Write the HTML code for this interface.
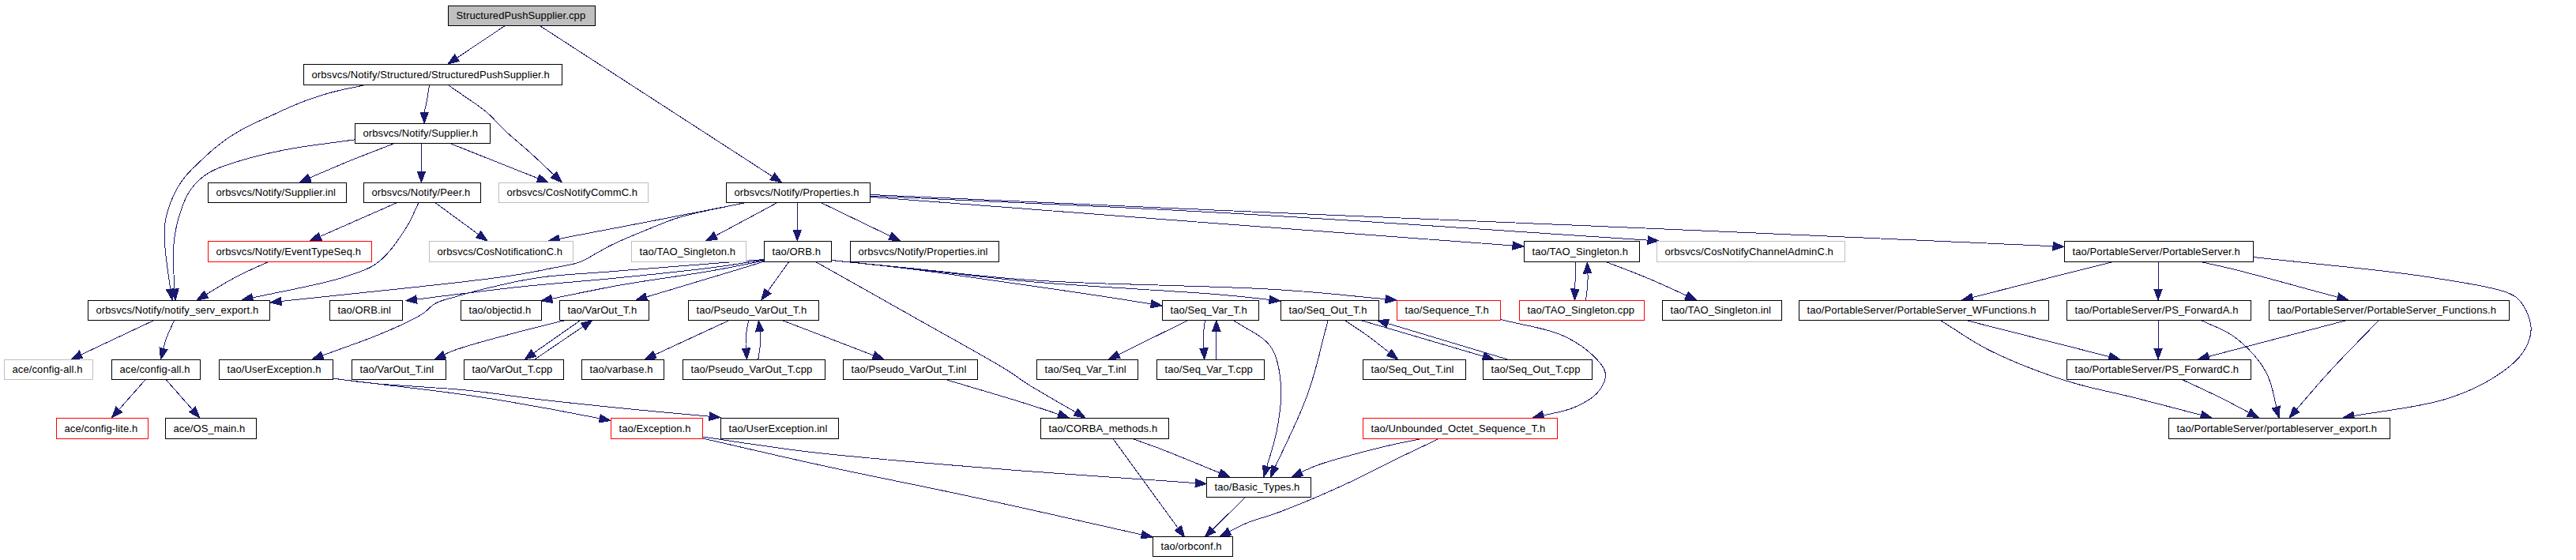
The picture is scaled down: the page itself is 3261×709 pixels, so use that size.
<!DOCTYPE html><html><head><meta charset="utf-8"><style>html,body{margin:0;padding:0;background:#fff;width:3261px;height:709px;overflow:hidden}svg{display:block}text{font-family:"Liberation Sans",sans-serif;font-size:13px;letter-spacing:0.1px;fill:#000}</style></head><body>
<svg width="3261" height="709" viewBox="0 0 3261 709">
<rect x="0" y="0" width="3261" height="709" fill="#fff"/>
<g fill="none" stroke="#191970" stroke-width="1" shape-rendering="crispEdges">
<path d="M639.4,32.5L567,81"/>
<path d="M683.2,32.5L989.5,231"/>
<path d="M543.5,107.5 543.2,109.6 542.9,111.6 542.6,113.7 542.2,115.8 541.9,117.9 541.6,119.9 541.3,122 541,124 540.6,126 540.2,128.1 539.8,130.2 539.3,132.3 538.8,134.5 538.3,136.6 537.9,138.7 537.5,140.9 537.3,143 537.1,145.1 537,147.3 537,149.5 537,151.7 537.1,153.8 537.1,156"/>
<path d="M566.6,107.2 568.3,108.3 569.9,109.5 571.6,110.6 573.2,111.7 574.8,112.9 576.5,114 578.1,115.1 579.8,116.3 581.5,117.4 583.2,118.6 584.8,119.8 586.5,121 588.2,122.2 589.9,123.3 591.6,124.5 593.4,125.7 595.1,126.8 596.8,128 598.6,129.2 600.3,130.4 602.1,131.6 603.9,132.8 605.6,134 607.4,135.3 609.1,136.6 610.8,137.9 612.5,139.2 614.1,140.5 615.7,141.8 617.3,143.2 618.8,144.6 620.3,146 621.8,147.4 623.3,148.9 624.7,150.3 626.1,151.8 627.5,153.3 628.9,154.8 630.4,156.3 631.8,157.8 633.2,159.3 634.7,160.9 636.2,162.4 637.7,163.8 639.2,165.3 640.7,166.7 642.2,168.1 643.7,169.4 645.2,170.7 646.7,172.1 648.3,173.4 649.8,174.7 651.4,176.1 652.9,177.4 654.5,178.8 656.1,180.1 657.7,181.5 659.3,182.9 660.9,184.3 662.6,185.7 664.2,187.1 665.8,188.5 667.5,189.9 669.1,191.4 670.6,192.8 672.2,194.2 673.7,195.5 675.1,196.9 676.6,198.2 678,199.6 679.5,200.9 681,202.3 682.5,203.7 684,205.1 685.5,206.5 687,207.9 688.5,209.4 690,210.8 691.5,212.3 693.1,213.7 694.6,215.1 696.1,216.6 697.6,218 699.2,219.5 700.7,220.9 702.2,222.4 703.7,223.8 705.3,225.3 706.8,226.7 708.3,228.2 709.8,229.6 711.3,231"/>
<path d="M462.5,107.5 460.4,107.9 458.4,108.4 456.3,108.8 454.3,109.3 452.2,109.7 450.1,110.1 448,110.5 446,111 443.9,111.4 441.8,111.8 439.7,112.3 437.7,112.7 435.6,113.2 433.6,113.6 431.6,114.1 429.5,114.5 427.5,115 425.5,115.5 423.5,116 421.5,116.5 419.5,117 417.5,117.6 415.5,118.2 413.5,118.7 411.5,119.3 409.5,119.9 407.6,120.5 405.6,121.1 403.7,121.7 401.7,122.3 399.8,123 397.8,123.6 395.9,124.3 393.9,124.9 392,125.6 390,126.4 388,127.1 386,127.8 384.1,128.6 382.2,129.3 380.3,130 378.4,130.8 376.5,131.6 374.7,132.3 372.8,133.1 370.8,134 368.9,134.8 367,135.6 365,136.5 363.1,137.4 361.2,138.2 359.2,139.1 357.3,140 355.4,140.8 353.5,141.7 351.6,142.6 349.8,143.4 348,144.2 346.2,145.1 344.4,145.9 342.6,146.7 340.9,147.5 339,148.3 337.1,149.2 335.1,150.1 333.1,151 331.2,151.8 329.2,152.7 327.3,153.6 325.4,154.4 323.6,155.3 321.7,156.1 319.9,157 318.1,157.9 316.2,158.8 314.4,159.8 312.5,160.7 310.7,161.7 308.9,162.7 307.1,163.6 305.3,164.6 303.5,165.7 301.7,166.7 299.9,167.7 298.1,168.8 296.3,169.9 294.5,171 292.7,172.1 291,173.2 289.2,174.4 287.5,175.6 285.8,176.8 284.1,178 282.5,179.2 280.9,180.4 279.3,181.6 277.7,182.8 276.1,184.1 274.6,185.3 273,186.6 271.4,187.9 269.9,189.3 268.3,190.6 266.7,192 265.2,193.4 263.6,194.8 262.1,196.2 260.5,197.6 259,199 257.5,200.4 256.1,201.7 254.7,203.1 253.2,204.4 251.8,205.8 250.3,207.2 248.8,208.6 247.4,210 245.9,211.4 244.4,212.9 243,214.3 241.5,215.8 240.1,217.3 238.7,218.8 237.3,220.3 236,221.9 234.7,223.4 233.4,225 232.1,226.6 230.9,228.2 229.8,229.8 228.6,231.5 227.5,233.2 226.5,234.9 225.4,236.6 224.4,238.4 223.4,240.2 222.4,242.1 221.5,243.9 220.5,245.8 219.7,247.7 218.8,249.6 218,251.5 217.2,253.4 216.4,255.3 215.6,257.1 214.9,259 214.3,260.9 213.6,262.8 213,264.6 212.5,266.4 211.9,268.3 211.4,270.2 210.9,272.2 210.4,274.2 210,276.2 209.6,278.2 209.3,280.2 209,282.1 208.8,284.1 208.6,286.1 208.5,288.2 208.4,290.2 208.3,292.4 208.3,294.6 208.2,296.7 208.2,298.8 208.3,300.8 208.3,302.7 208.4,304.6 208.5,306.5 208.6,308.5 208.7,310.5 208.9,312.6 209.1,314.7 209.3,316.9 209.5,319.1 209.8,321.3 210,323.5 210.3,325.8 210.5,328.1 210.8,330.4 211.1,332.7 211.4,335 211.7,337.3 212,339.5 212.3,341.8 212.6,344 212.9,346.1 213.2,348.2 213.5,350.3 213.8,352.3 214.1,354.2 214.3,356.1 214.6,357.9 214.8,359.6 215.1,361.3 215.3,362.9 215.5,364.6 215.8,366.4 216.1,368.3 216.4,370.4 216.7,372.4 217,374.3 217.4,376.2 217.7,378.1 218,380"/>
<path d="M499.1,181.6 497.2,182.4 495.2,183.1 493.3,183.9 491.3,184.6 489.4,185.4 487.4,186.1 485.5,186.9 483.5,187.6 481.6,188.4 479.6,189.1 477.7,189.9 475.8,190.7 473.8,191.4 471.9,192.2 470,192.9 468.1,193.6 466.2,194.4 464.3,195.1 462.4,195.8 460.6,196.6 458.7,197.3 456.8,198 454.9,198.8 453,199.5 451.1,200.3 449.1,201.1 447.1,201.9 445.1,202.7 443.1,203.5 441.2,204.2 439.4,205 437.6,205.7 435.8,206.5 433.9,207.3 432,208.1 430,208.9 428,209.8 425.9,210.6 423.9,211.5 421.8,212.4 419.7,213.3 417.6,214.2 415.6,215.1 413.5,215.9 411.5,216.8 409.5,217.7 407.5,218.5 405.6,219.3 403.7,220.1 401.9,220.9 400.1,221.7 398.5,222.4 396.9,223.1 395.3,223.8 393.7,224.5 391.9,225.3 390.1,226.1 388.2,226.9 386.4,227.8 384.5,228.6 382.7,229.4 381,230.2 379.2,231"/>
<path d="M533.4,181.6L533.4,231"/>
<path d="M569.8,181.6L694.1,231"/>
<path d="M449.3,176.8 447.3,177.1 445.3,177.4 443.3,177.7 441.2,177.9 439.2,178.2 437.2,178.5 435.2,178.8 433.1,179 431.1,179.3 429,179.6 427,179.9 424.9,180.1 422.9,180.4 420.8,180.7 418.8,180.9 416.7,181.2 414.7,181.5 412.6,181.7 410.6,182 408.5,182.3 406.5,182.5 404.5,182.8 402.4,183.1 400.4,183.4 398.4,183.6 396.3,183.9 394.3,184.2 392.3,184.5 390.3,184.8 388.3,185.1 386.3,185.4 384.3,185.7 382.4,186 380.4,186.3 378.5,186.6 376.5,186.9 374.6,187.2 372.7,187.5 370.8,187.9 368.9,188.2 367,188.6 365.1,188.9 363.2,189.3 361.2,189.6 359.2,190 357.2,190.5 355.1,190.9 353,191.3 350.9,191.8 348.8,192.2 346.7,192.7 344.6,193.1 342.5,193.6 340.5,194 338.4,194.5 336.4,195 334.3,195.5 332.3,196 330.3,196.4 328.3,196.9 326.3,197.4 324.3,197.9 322.4,198.4 320.4,198.9 318.5,199.4 316.6,199.9 314.7,200.5 312.9,201 311,201.5 309.2,202 307.4,202.5 305.6,203.1 303.9,203.6 302.1,204.1 300.4,204.7 298.6,205.2 296.7,205.8 294.8,206.5 292.7,207.1 290.6,207.8 288.6,208.5 286.5,209.2 284.5,209.9 282.5,210.6 280.6,211.3 278.6,212 276.8,212.7 274.9,213.5 273.1,214.3 271.3,215.1 269.6,215.9 267.9,216.8 266.2,217.7 264.5,218.7 262.8,219.8 261.1,220.9 259.3,222.1 257.6,223.4 255.9,224.7 254.3,226.1 252.7,227.5 251.1,229 249.6,230.4 248.1,232 246.7,233.5 245.3,235.1 244,236.7 242.7,238.3 241.5,240 240.4,241.7 239.3,243.3 238.2,245.1 237.3,246.8 236.3,248.6 235.4,250.3 234.6,252.2 233.8,254 233,255.9 232.2,257.8 231.4,259.8 230.7,261.8 230,263.7 229.3,265.7 228.7,267.7 228.1,269.6 227.5,271.4 226.9,273.3 226.3,275.2 225.8,277.1 225.3,279 224.8,280.9 224.3,282.9 223.8,284.9 223.4,286.9 222.9,288.9 222.5,290.9 222.1,293 221.8,295.1 221.4,297.2 221.1,299.3 220.8,301.4 220.5,303.5 220.3,305.7 220.1,307.7 219.9,309.8 219.7,311.8 219.6,313.9 219.5,316 219.5,318.1 219.4,320.3 219.4,322.5 219.4,324.8 219.4,327 219.4,329.3 219.5,331.6 219.5,333.9 219.6,336.2 219.7,338.5 219.8,340.8 219.8,343 219.9,345.2 220,347.4 220.2,349.5 220.3,351.6 220.4,353.6 220.5,355.6 220.6,357.5 220.7,359.3 220.8,361 220.9,362.7 220.9,364.5 221,366.3 221.2,368.3 221.3,370.3 221.4,372.3 221.6,374.3 221.7,376.2 221.9,378.1 222,380"/>
<path d="M503,256.4L392.5,305"/>
<path d="M550.6,256.4L617,305"/>
<path d="M530,256.4 529.1,258.3 528.2,260.2 527.4,262 526.5,263.9 525.7,265.8 524.8,267.6 524,269.5 523.1,271.4 522.3,273.3 521.4,275.1 520.5,277 519.5,278.9 518.5,280.8 517.5,282.7 516.4,284.6 515.3,286.5 514.2,288.3 513.1,290 512.1,291.7 511,293.3 509.9,295 508.8,296.6 507.7,298.3 506.5,300 505.3,301.8 504.1,303.5 502.9,305.2 501.6,307 500.3,308.7 499.1,310.4 497.7,312.2 496.4,313.9 495.1,315.5 493.7,317.2 492.3,318.8 490.9,320.4 489.5,322 488.1,323.5 486.6,325 485.2,326.4 483.7,327.8 482.2,329.1 480.7,330.3 479.2,331.6 477.6,332.8 476,333.9 474.4,335 472.8,336 471.2,337 469.6,337.9 467.9,338.8 466.3,339.6 464.6,340.4 462.9,341.2 461.2,341.9 459.4,342.6 457.6,343.3 455.7,344 453.8,344.7 451.8,345.4 449.8,346.1 447.7,346.8 445.6,347.5 443.5,348.2 441.4,348.9 439.4,349.6 437.7,350.2 436,350.7 434.5,351.2 433,351.6 431.5,352.1 429.9,352.5 428.3,353 426.7,353.4 425.1,353.9 423.4,354.4 421.8,354.8 420,355.3 418.3,355.7 416.5,356.2 414.7,356.6 412.9,357.1 411.1,357.5 409.3,357.9 407.4,358.4 405.5,358.8 403.6,359.3 401.6,359.7 399.7,360.2 397.7,360.6 395.7,361.1 393.7,361.5 391.7,361.9 389.7,362.4 387.7,362.8 385.6,363.3 383.6,363.7 381.5,364.2 379.4,364.6 377.3,365 375.2,365.5 373.1,365.9 371,366.4 368.9,366.8 366.7,367.2 364.6,367.7 362.5,368.1 360.3,368.5 358.2,369 356,369.4 353.9,369.9 351.8,370.3 349.6,370.7 347.5,371.2 345.3,371.6 343.2,372.1 341.1,372.5 338.9,372.9 336.8,373.4 334.7,373.8 332.6,374.3 330.5,374.7 328.4,375.1 326.3,375.6 324.2,376 322.1,376.5 320.1,376.9 318,377.3 316,377.8 314,378.2 312,378.7 310,379.1 308,379.6 306,380"/>
<path d="M340,331.4 338.2,332.2 336.4,333.1 334.6,333.9 332.8,334.7 331,335.5 329.2,336.3 327.4,337.1 325.6,337.9 323.8,338.7 322,339.5 320.2,340.3 318.4,341.1 316.6,341.9 314.8,342.8 313,343.6 311.2,344.5 309.3,345.3 307.5,346.2 305.6,347.1 303.8,348.1 301.9,349 300.1,350 298.4,350.9 296.6,351.8 294.9,352.8 293.2,353.7 291.5,354.7 289.8,355.6 288,356.6 286.3,357.6 284.5,358.7 282.8,359.7 281,360.7 279.2,361.8 277.5,362.8 275.7,363.9 273.9,365 272.1,366.1 270.4,367.1 268.6,368.2 266.8,369.3 265,370.4 263.2,371.5 261.4,372.6 259.6,373.6 257.9,374.7 256.1,375.8 254.3,376.8 252.5,377.9 250.8,379 249,380"/>
<path d="M944.7,256.5 942.7,256.9 940.8,257.3 938.8,257.7 936.8,258 934.8,258.4 932.9,258.8 930.9,259.2 929,259.6 927,260 925.1,260.3 923.1,260.7 921.2,261.1 919.2,261.5 917.3,261.9 915.4,262.2 913.4,262.6 911.5,263 909.5,263.4 907.6,263.8 905.7,264.1 903.7,264.5 901.8,264.9 899.8,265.3 897.9,265.7 896,266 894,266.4 892.1,266.8 890.1,267.2 888.2,267.6 886.2,268 884.2,268.3 882.3,268.7 880.3,269.1 878.4,269.5 876.4,269.9 874.4,270.3 872.4,270.7 870.4,271 868.4,271.4 866.4,271.8 864.4,272.2 862.4,272.6 860.4,273 858.4,273.4 856.4,273.8 854.3,274.2 852.3,274.6 850.3,275 848.2,275.4 846.1,275.8 844.1,276.2 842,276.6 839.9,277 837.9,277.4 835.9,277.8 833.9,278.1 832,278.5 830.2,278.9 828.3,279.2 826.4,279.6 824.5,280 822.7,280.3 820.8,280.7 818.9,281.1 817,281.4 815.1,281.8 813.2,282.2 811.2,282.5 809.3,282.9 807.4,283.3 805.5,283.6 803.5,284 801.6,284.4 799.7,284.8 797.7,285.1 795.8,285.5 793.8,285.9 791.8,286.3 789.9,286.6 787.9,287 785.9,287.4 784,287.8 782,288.2 780,288.5 778,288.9 776,289.3 774,289.7 772,290.1 770,290.4 768.1,290.8 766.1,291.2 764.1,291.6 762.1,292 760.1,292.4 758,292.7 756,293.1 754,293.5 752,293.9 750,294.3 748,294.7 746,295 744,295.4 742,295.8 740,296.2 738,296.6 736,297 734,297.4 731.9,297.7 729.9,298.1 727.9,298.5 725.9,298.9 723.9,299.3 721.9,299.7 719.9,300 717.9,300.4 715.9,300.8 713.9,301.2 711.9,301.6 709.9,302 707.9,302.3 706,302.7 704,303.1 702,303.5 700,303.9 698,304.2 696.1,304.6 694.1,305"/>
<path d="M941,257 939,257.4 937,257.9 935,258.3 933,258.7 931,259.2 928.9,259.6 926.9,260 924.8,260.5 922.7,260.9 920.7,261.3 918.6,261.8 916.5,262.2 914.4,262.6 912.3,263.1 910.2,263.5 908.1,263.9 906,264.4 904,264.8 901.9,265.2 899.8,265.7 897.8,266.1 895.7,266.5 893.7,267 891.7,267.4 889.7,267.8 887.7,268.3 885.7,268.7 883.7,269.1 881.8,269.6 879.9,270 878,270.5 876.2,270.9 874.3,271.4 872.5,271.8 870.7,272.3 869,272.7 867.3,273.2 865.6,273.6 863.9,274.1 862.1,274.6 860.3,275.1 858.4,275.7 856.4,276.4 854.3,277 852.4,277.7 850.4,278.4 848.5,279 846.7,279.7 844.9,280.4 843.1,281.1 841.3,281.8 839.6,282.5 837.8,283.2 836.1,283.9 834.3,284.6 832.5,285.3 830.7,286.1 828.8,286.8 827,287.6 825.1,288.3 823.3,289.1 821.4,289.8 819.6,290.6 817.7,291.3 815.9,292.1 813.9,292.9 812,293.7 810.1,294.4 808.1,295.3 806.1,296.1 804.2,296.9 802.2,297.7 800.2,298.5 798.2,299.4 796.3,300.2 794.4,301 792.5,301.8 790.6,302.7 788.7,303.5 786.9,304.3 785.1,305.1 783.4,305.9 781.6,306.6 780,307.4 778.2,308.2 776.5,309.1 774.6,310 772.7,310.9 770.8,311.9 769,312.9 767.1,313.9 765.4,314.8 763.6,315.8 761.9,316.8 760.2,317.7 758.6,318.6 756.9,319.6 755.2,320.5 753.5,321.5 751.8,322.5 750,323.5 748.3,324.5 746.6,325.6 744.9,326.6 743.2,327.6 741.4,328.5 739.6,329.4 737.8,330.3 735.9,331 734.1,331.7 732.3,332.3 730.6,332.9 728.8,333.4 727,333.9 725.1,334.3 723.2,334.8 721.2,335.2 719.2,335.6 717.2,336 715.1,336.4 713.1,336.8 710.9,337.2 708.8,337.6 706.6,338 704.5,338.4 702.4,338.8 700.3,339.2 698.4,339.6 696.6,340 694.9,340.3 693.1,340.7 691.4,341 689.7,341.4 688,341.7 686.3,342.1 684.6,342.4 682.8,342.7 681.1,343.1 679.3,343.4 677.5,343.8 675.7,344.1 673.8,344.5 671.9,344.8 670,345.2 668,345.5 666,345.9 663.9,346.2 661.8,346.6 659.6,347 657.4,347.3 655.1,347.7 652.8,348.1 650.3,348.4 647.9,348.8 645.4,349.2 643.1,349.5 641,349.9 639.1,350.1 637.6,350.3 636.2,350.5 634.9,350.7 633.5,350.9 632.2,351.1 630.8,351.3 629.4,351.5 628,351.7 626.6,351.8 625.2,352 623.7,352.2 622.2,352.4 620.7,352.6 619.2,352.8 617.7,353 616.2,353.2 614.6,353.4 613,353.6 611.4,353.8 609.8,354 608.2,354.2 606.5,354.4 604.9,354.6 603.2,354.8 601.5,355 599.8,355.2 598.1,355.4 596.3,355.6 594.6,355.8 592.8,356 591,356.2 589.2,356.5 587.4,356.7 585.6,356.9 583.8,357.1 581.9,357.3 580.1,357.5 578.2,357.7 576.3,357.9 574.4,358.2 572.5,358.4 570.6,358.6 568.7,358.8 566.7,359 564.8,359.2 562.8,359.5 560.8,359.7 558.8,359.9 556.8,360.1 554.8,360.4 552.8,360.6 550.8,360.8 548.7,361 546.7,361.2 544.6,361.5 542.6,361.7 540.5,361.9 538.4,362.1 536.3,362.4 534.2,362.6 532.1,362.8 530,363.1 527.9,363.3 525.7,363.5 523.6,363.7 521.5,364 519.3,364.2 517.2,364.4 515,364.7 512.8,364.9 510.7,365.1 508.5,365.4 506.3,365.6 504.1,365.8 501.9,366.1 499.7,366.3 497.5,366.5 495.3,366.7 493.1,367 490.9,367.2 488.6,367.5 486.4,367.7 484.2,367.9 482,368.2 479.7,368.4 477.5,368.6 475.2,368.9 473,369.1 470.8,369.3 468.5,369.6 466.3,369.8 464,370 461.8,370.3 459.5,370.5 457.3,370.7 455,371 452.8,371.2 450.5,371.4 448.3,371.7 446,371.9 443.7,372.2 441.5,372.4 439.2,372.6 437,372.9 434.7,373.1 432.5,373.3 430.2,373.6 428,373.8 425.8,374 423.5,374.3 421.3,374.5 419,374.7 416.8,375 414.6,375.2 412.3,375.4 410.1,375.7 407.9,375.9 405.7,376.1 403.5,376.4 401.3,376.6 399.1,376.8 396.9,377.1 394.7,377.3 392.5,377.5 390.3,377.8 388.1,378 385.9,378.2 383.8,378.5 381.6,378.7 379.5,378.9 377.3,379.2 375.2,379.4 373,379.6 370.9,379.8 368.8,380.1 366.7,380.3 364.6,380.5 362.5,380.8 360.4,381 358.3,381.2 356.3,381.4 354.2,381.7 352.1,381.9 350.1,382.1 348.1,382.3 346,382.6 344,382.8 342,383"/>
<path d="M984.2,256.5L893.7,305"/>
<path d="M1009.3,256.5L1009.3,305"/>
<path d="M1039.2,256.5L1139.5,305"/>
<path d="M1101.8,249.3 1103.8,249.5 1105.8,249.6 1107.8,249.8 1109.8,249.9 1111.8,250.1 1113.8,250.2 1115.8,250.4 1117.8,250.5 1119.8,250.7 1121.8,250.8 1123.9,251 1125.9,251.1 1127.9,251.3 1129.9,251.5 1131.9,251.6 1133.9,251.8 1135.9,251.9 1137.9,252.1 1139.9,252.2 1142,252.4 1144,252.5 1146,252.7 1148,252.8 1150,253 1152,253.1 1154,253.3 1156.1,253.5 1158.1,253.6 1160.1,253.8 1162.1,253.9 1164.1,254.1 1166.2,254.2 1168.2,254.4 1170.2,254.5 1172.2,254.7 1174.2,254.9 1176.3,255 1178.3,255.2 1180.3,255.3 1182.3,255.5 1184.4,255.6 1186.4,255.8 1188.4,255.9 1190.4,256.1 1192.4,256.2 1194.5,256.4 1196.5,256.6 1198.5,256.7 1200.5,256.9 1202.6,257 1204.6,257.2 1206.6,257.3 1208.6,257.5 1210.7,257.6 1212.7,257.8 1214.7,258 1216.8,258.1 1218.8,258.3 1220.8,258.4 1222.8,258.6 1224.9,258.7 1226.9,258.9 1228.9,259 1231,259.2 1233,259.4 1235,259.5 1237,259.7 1239.1,259.8 1241.1,260 1243.1,260.1 1245.2,260.3 1247.2,260.4 1249.2,260.6 1251.2,260.8 1253.3,260.9 1255.3,261.1 1257.3,261.2 1259.4,261.4 1261.4,261.5 1263.4,261.7 1265.4,261.9 1267.5,262 1269.5,262.2 1271.5,262.3 1273.6,262.5 1275.6,262.6 1277.6,262.8 1279.6,262.9 1281.7,263.1 1283.7,263.3 1285.7,263.4 1287.7,263.6 1289.8,263.7 1291.8,263.9 1293.8,264 1295.9,264.2 1297.9,264.3 1299.9,264.5 1301.9,264.7 1304,264.8 1306,265 1308,265.1 1310,265.3 1312.1,265.4 1314.1,265.6 1316.1,265.7 1318.1,265.9 1320.2,266.1 1322.2,266.2 1324.2,266.4 1326.2,266.5 1328.2,266.7 1330.3,266.8 1332.3,267 1334.3,267.1 1336.3,267.3 1338.3,267.4 1340.4,267.6 1342.4,267.8 1344.4,267.9 1346.4,268.1 1348.4,268.2 1350.5,268.4 1352.5,268.5 1354.5,268.7 1356.5,268.8 1358.5,269 1360.5,269.1 1362.6,269.3 1364.6,269.5 1366.6,269.6 1368.6,269.8 1370.6,269.9 1372.6,270.1 1374.6,270.2 1376.6,270.4 1378.6,270.5 1380.7,270.7 1382.7,270.8 1384.7,271 1386.7,271.2 1388.7,271.3 1390.7,271.5 1392.7,271.6 1394.7,271.8 1396.7,271.9 1398.7,272.1 1400.7,272.2 1402.7,272.4 1404.7,272.5 1406.7,272.7 1408.7,272.8 1410.7,273 1412.7,273.1 1414.7,273.3 1416.7,273.4 1418.7,273.6 1420.7,273.8 1422.7,273.9 1424.7,274.1 1426.7,274.2 1428.7,274.4 1430.7,274.5 1432.6,274.7 1434.6,274.8 1436.6,275 1438.6,275.1 1440.6,275.3 1442.6,275.4 1444.6,275.6 1446.5,275.7 1448.5,275.9 1450.5,276 1452.5,276.2 1454.5,276.3 1456.4,276.5 1458.4,276.6 1460.4,276.8 1462.4,276.9 1464.3,277.1 1466.3,277.2 1468.3,277.4 1470.3,277.5 1472.2,277.7 1474.2,277.8 1476.2,278 1478.1,278.1 1480.1,278.3 1482.1,278.4 1484,278.6 1486,278.7 1487.9,278.9 1489.9,279 1491.9,279.2 1493.8,279.3 1495.8,279.5 1497.7,279.6 1499.7,279.8 1501.6,279.9 1503.6,280.1 1505.5,280.2 1507.5,280.4 1509.4,280.5 1511.4,280.7 1513.3,280.8 1515.3,281 1517.2,281.1 1519.1,281.3 1521.1,281.4 1523,281.6 1525,281.7 1526.9,281.8 1528.8,282 1530.8,282.1 1532.7,282.3 1534.6,282.4 1536.5,282.6 1538.5,282.7 1540.4,282.9 1542.3,283 1544.2,283.2 1546.2,283.3 1548.1,283.5 1550.1,283.6 1552.1,283.8 1554.2,283.9 1556.2,284.1 1558.3,284.2 1560.4,284.4 1562.4,284.5 1564.5,284.7 1566.6,284.9 1568.6,285 1570.7,285.2 1572.8,285.3 1574.8,285.5 1576.9,285.6 1578.9,285.8 1581,285.9 1583,286.1 1585.1,286.3 1587.1,286.4 1589.2,286.6 1591.2,286.7 1593.3,286.9 1595.3,287 1597.4,287.2 1599.4,287.3 1601.4,287.5 1603.5,287.6 1605.5,287.8 1607.6,287.9 1609.6,288.1 1611.6,288.3 1613.6,288.4 1615.7,288.6 1617.7,288.7 1619.7,288.9 1621.8,289 1623.8,289.2 1625.8,289.3 1627.8,289.5 1629.9,289.6 1631.9,289.8 1633.9,289.9 1635.9,290.1 1637.9,290.2 1639.9,290.4 1642,290.5 1644,290.7 1646,290.8 1648,291 1650,291.1 1652,291.3 1654,291.4 1656,291.6 1658,291.7 1660,291.9 1662,292 1664,292.2 1666,292.3 1668,292.5 1670,292.6 1672,292.8 1674,292.9 1676,293.1 1678,293.2 1680,293.4 1682,293.5 1684,293.7 1686,293.8 1688,294 1690,294.1 1692,294.3 1694,294.4 1695.9,294.6 1697.9,294.7 1699.9,294.9 1701.9,295 1703.9,295.2 1705.9,295.3 1707.9,295.5 1709.8,295.6 1711.8,295.8 1713.8,295.9 1715.8,296.1 1717.8,296.2 1719.7,296.4 1721.7,296.5 1723.7,296.7 1725.7,296.8 1727.7,297 1729.6,297.1 1731.6,297.2 1733.6,297.4 1735.6,297.5 1737.5,297.7 1739.5,297.8 1741.5,298 1743.5,298.1 1745.4,298.3 1747.4,298.4 1749.4,298.6 1751.3,298.7 1753.3,298.9 1755.3,299 1757.3,299.2 1759.2,299.3 1761.2,299.5 1763.2,299.6 1765.1,299.8 1767.1,299.9 1769.1,300 1771,300.2 1773,300.3 1775,300.5 1777,300.6 1778.9,300.8 1780.9,300.9 1782.9,301.1 1784.8,301.2 1786.8,301.4 1788.8,301.5 1790.7,301.7 1792.7,301.8 1794.7,302 1796.6,302.1 1798.6,302.3 1800.6,302.4 1802.5,302.5 1804.5,302.7 1806.5,302.8 1808.4,303 1810.4,303.1 1812.4,303.3 1814.3,303.4 1816.3,303.6 1818.3,303.7 1820.2,303.9 1822.2,304 1824.2,304.2 1826.1,304.3 1828.1,304.5 1830.1,304.6 1832,304.8 1834,304.9 1836,305 1837.9,305.2 1839.9,305.3 1841.9,305.5 1843.9,305.6 1845.8,305.8 1847.8,305.9 1849.8,306.1 1851.7,306.2 1853.7,306.4 1855.7,306.5 1857.7,306.7 1859.6,306.8 1861.6,307 1863.6,307.1 1865.5,307.3 1867.5,307.4 1869.5,307.5 1871.5,307.7 1873.4,307.8 1875.4,308 1877.4,308.1 1879.4,308.3 1881.3,308.4 1883.3,308.6 1885.3,308.7 1887.3,308.9 1889.3,309 1891.2,309.2 1893.2,309.3 1895.2,309.5 1897.2,309.6 1899.2,309.8 1901.2,309.9 1903.1,310.1 1905.1,310.2 1907.1,310.4 1909.1,310.5 1911.1,310.7 1913.1,310.8 1915.1,311 1917,311.1 1919,311.3 1921,311.4 1923,311.6 1925,311.7 1927,311.9 1929,312"/>
<path d="M1101.8,248 1103.8,248.1 1105.8,248.2 1107.8,248.3 1109.8,248.4 1111.8,248.5 1113.8,248.6 1115.8,248.7 1117.8,248.8 1119.8,248.9 1121.8,249 1123.8,249 1125.7,249.1 1127.7,249.2 1129.7,249.3 1131.7,249.4 1133.7,249.5 1135.7,249.6 1137.7,249.7 1139.7,249.8 1141.7,249.9 1143.6,250 1145.6,250.1 1147.6,250.2 1149.6,250.3 1151.6,250.4 1153.6,250.4 1155.5,250.5 1157.5,250.6 1159.5,250.7 1161.5,250.8 1163.5,250.9 1165.4,251 1167.4,251.1 1169.4,251.2 1171.4,251.3 1173.3,251.4 1175.3,251.5 1177.3,251.5 1179.3,251.6 1181.2,251.7 1183.2,251.8 1185.2,251.9 1187.2,252 1189.1,252.1 1191.1,252.2 1193.1,252.3 1195,252.4 1197,252.5 1199,252.5 1201,252.6 1202.9,252.7 1204.9,252.8 1206.9,252.9 1208.8,253 1210.8,253.1 1212.8,253.2 1214.7,253.3 1216.7,253.3 1218.7,253.4 1220.7,253.5 1222.6,253.6 1224.6,253.7 1226.6,253.8 1228.5,253.9 1230.5,254 1232.5,254.1 1234.4,254.2 1236.4,254.2 1238.4,254.3 1240.3,254.4 1242.3,254.5 1244.3,254.6 1246.2,254.7 1248.2,254.8 1250.2,254.9 1252.1,255 1254.1,255 1256.1,255.1 1258,255.2 1260,255.3 1262,255.4 1263.9,255.5 1265.9,255.6 1267.9,255.7 1269.8,255.8 1271.8,255.8 1273.8,255.9 1275.7,256 1277.7,256.1 1279.7,256.2 1281.6,256.3 1283.6,256.4 1285.6,256.5 1287.6,256.6 1289.5,256.7 1291.5,256.7 1293.5,256.8 1295.4,256.9 1297.4,257 1299.4,257.1 1301.3,257.2 1303.3,257.3 1305.3,257.4 1307.3,257.5 1309.2,257.6 1311.2,257.6 1313.2,257.7 1315.2,257.8 1317.1,257.9 1319.1,258 1321.1,258.1 1323.1,258.2 1325,258.3 1327,258.4 1329,258.5 1331,258.6 1332.9,258.6 1334.9,258.7 1336.9,258.8 1338.9,258.9 1340.8,259 1342.8,259.1 1344.8,259.2 1346.8,259.3 1348.8,259.4 1350.8,259.5 1352.7,259.6 1354.7,259.7 1356.7,259.7 1358.7,259.8 1360.7,259.9 1362.7,260 1364.7,260.1 1366.6,260.2 1368.6,260.3 1370.6,260.4 1372.6,260.5 1374.6,260.6 1376.6,260.7 1378.6,260.8 1380.6,260.9 1382.6,261 1384.6,261.1 1386.6,261.2 1388.6,261.3 1390.6,261.4 1392.6,261.4 1394.6,261.5 1396.6,261.6 1398.6,261.7 1400.6,261.8 1402.6,261.9 1404.6,262 1406.6,262.1 1408.6,262.2 1410.6,262.3 1412.6,262.4 1414.6,262.5 1416.6,262.6 1418.6,262.7 1420.6,262.8 1422.6,262.9 1424.7,263 1426.7,263.1 1428.7,263.2 1430.7,263.3 1432.7,263.4 1434.7,263.5 1436.8,263.6 1438.8,263.7 1440.8,263.8 1442.8,263.9 1444.9,264 1446.9,264.1 1448.9,264.2 1450.9,264.3 1453,264.4 1455,264.5 1457,264.6 1459.1,264.7 1461.1,264.8 1463.1,264.9 1465.2,265 1467.2,265.2 1469.3,265.3 1471.3,265.4 1473.3,265.5 1475.4,265.6 1477.4,265.7 1479.5,265.8 1481.5,265.9 1483.6,266 1485.6,266.1 1487.7,266.2 1489.7,266.3 1491.8,266.4 1493.9,266.5 1495.9,266.6 1498,266.8 1500,266.9 1502.1,267 1504.2,267.1 1506.2,267.2 1508.3,267.3 1510.4,267.4 1512.4,267.5 1514.5,267.6 1516.6,267.8 1518.7,267.9 1520.7,268 1522.8,268.1 1524.9,268.2 1527,268.3 1529.1,268.4 1531.2,268.6 1533.2,268.7 1535.3,268.8 1537.4,268.9 1539.5,269 1541.6,269.1 1543.7,269.2 1545.8,269.4 1547.8,269.5 1549.9,269.6 1551.8,269.7 1553.8,269.8 1555.7,269.9 1557.6,270 1559.5,270.1 1561.4,270.2 1563.3,270.4 1565.2,270.5 1567.1,270.6 1569.1,270.7 1571,270.8 1572.9,270.9 1574.8,271 1576.7,271.1 1578.6,271.2 1580.6,271.3 1582.5,271.5 1584.4,271.6 1586.3,271.7 1588.3,271.8 1590.2,271.9 1592.1,272 1594,272.1 1596,272.3 1597.9,272.4 1599.8,272.5 1601.8,272.6 1603.7,272.7 1605.6,272.8 1607.6,272.9 1609.5,273.1 1611.5,273.2 1613.4,273.3 1615.3,273.4 1617.3,273.5 1619.2,273.6 1621.2,273.8 1623.1,273.9 1625.1,274 1627,274.1 1629,274.2 1630.9,274.3 1632.9,274.5 1634.8,274.6 1636.8,274.7 1638.8,274.8 1640.7,274.9 1642.7,275.1 1644.6,275.2 1646.6,275.3 1648.6,275.4 1650.5,275.5 1652.5,275.7 1654.4,275.8 1656.4,275.9 1658.4,276 1660.4,276.2 1662.3,276.3 1664.3,276.4 1666.3,276.5 1668.2,276.6 1670.2,276.8 1672.2,276.9 1674.2,277 1676.1,277.1 1678.1,277.3 1680.1,277.4 1682.1,277.5 1684.1,277.6 1686,277.8 1688,277.9 1690,278 1692,278.1 1694,278.3 1696,278.4 1697.9,278.5 1699.9,278.6 1701.9,278.8 1703.9,278.9 1705.9,279 1707.9,279.1 1709.9,279.3 1711.9,279.4 1713.9,279.5 1715.9,279.7 1717.9,279.8 1719.9,279.9 1721.9,280 1723.9,280.2 1725.9,280.3 1727.9,280.4 1729.9,280.6 1731.9,280.7 1733.9,280.8 1735.9,280.9 1737.9,281.1 1739.9,281.2 1741.9,281.3 1743.9,281.5 1745.9,281.6 1747.9,281.7 1749.9,281.8 1751.9,282 1753.9,282.1 1755.9,282.2 1757.9,282.4 1759.9,282.5 1761.9,282.6 1764,282.8 1766,282.9 1768,283 1770,283.2 1772,283.3 1774,283.4 1776,283.6 1778.1,283.7 1780.1,283.8 1782.1,283.9 1784.1,284.1 1786.1,284.2 1788.1,284.3 1790.2,284.5 1792.2,284.6 1794.2,284.7 1796.2,284.9 1798.2,285 1800.3,285.1 1802.3,285.3 1804.3,285.4 1806.3,285.5 1808.3,285.7 1810.4,285.8 1812.4,285.9 1814.4,286.1 1816.4,286.2 1818.5,286.3 1820.5,286.5 1822.5,286.6 1824.5,286.7 1826.6,286.9 1828.6,287 1830.6,287.2 1832.6,287.3 1834.7,287.4 1836.7,287.6 1838.7,287.7 1840.8,287.8 1842.8,288 1844.8,288.1 1846.8,288.2 1848.9,288.4 1850.9,288.5 1852.9,288.6 1855,288.8 1857,288.9 1859,289 1861.1,289.2 1863.1,289.3 1865.1,289.4 1867.2,289.6 1869.2,289.7 1871.2,289.9 1873.2,290 1875.3,290.1 1877.3,290.3 1879.3,290.4 1881.4,290.5 1883.4,290.7 1885.4,290.8 1887.5,290.9 1889.5,291.1 1891.5,291.2 1893.6,291.3 1895.6,291.5 1897.6,291.6 1899.7,291.8 1901.7,291.9 1903.7,292 1905.8,292.2 1907.8,292.3 1909.8,292.4 1911.9,292.6 1913.9,292.7 1915.9,292.8 1918,293 1920,293.1 1922,293.3 1924.1,293.4 1926.1,293.5 1928.2,293.7 1930.2,293.8 1932.2,293.9 1934.3,294.1 1936.3,294.2 1938.3,294.3 1940.4,294.5 1942.4,294.6 1944.4,294.7 1946.5,294.9 1948.5,295 1950.5,295.2 1952.6,295.3 1954.6,295.4 1956.6,295.6 1958.6,295.7 1960.7,295.8 1962.7,296 1964.7,296.1 1966.8,296.2 1968.8,296.4 1970.8,296.5 1972.9,296.6 1974.9,296.8 1976.9,296.9 1979,297.1 1981,297.2 1983,297.3 1985,297.5 1987.1,297.6 1989.1,297.7 1991.1,297.9 1993.2,298 1995.2,298.1 1997.2,298.3 1999.2,298.4 2001.3,298.5 2003.3,298.7 2005.3,298.8 2007.3,298.9 2009.4,299.1 2011.4,299.2 2013.4,299.3 2015.4,299.5 2017.5,299.6 2019.5,299.7 2021.5,299.9 2023.5,300 2025.6,300.1 2027.6,300.3 2029.6,300.4 2031.6,300.5 2033.6,300.7 2035.7,300.8 2037.7,300.9 2039.7,301.1 2041.7,301.2 2043.7,301.3 2045.8,301.5 2047.8,301.6 2049.8,301.7 2051.8,301.9 2053.8,302 2055.8,302.1 2057.8,302.3 2059.9,302.4 2061.9,302.5 2063.9,302.7 2065.9,302.8 2067.9,302.9 2069.9,303.1 2071.9,303.2 2073.9,303.3 2075.9,303.4 2078,303.6 2080,303.7 2082,303.8 2084,304 2086,304.1 2088,304.2 2090,304.4 2092,304.5 2094,304.6 2096,304.7 2098,304.9 2100,305"/>
<path d="M1101.8,246.5 1103.8,246.6 1105.8,246.7 1107.8,246.8 1109.8,246.9 1111.8,246.9 1113.8,247 1115.8,247.1 1117.8,247.2 1119.8,247.3 1121.8,247.4 1123.8,247.5 1125.7,247.6 1127.7,247.7 1129.7,247.7 1131.7,247.8 1133.7,247.9 1135.7,248 1137.7,248.1 1139.7,248.2 1141.6,248.3 1143.6,248.4 1145.6,248.5 1147.6,248.5 1149.6,248.6 1151.6,248.7 1153.5,248.8 1155.5,248.9 1157.5,249 1159.5,249.1 1161.4,249.2 1163.4,249.3 1165.4,249.3 1167.4,249.4 1169.4,249.5 1171.3,249.6 1173.3,249.7 1175.3,249.8 1177.3,249.9 1179.2,250 1181.2,250.1 1183.2,250.1 1185.1,250.2 1187.1,250.3 1189.1,250.4 1191.1,250.5 1193,250.6 1195,250.7 1197,250.8 1198.9,250.9 1200.9,250.9 1202.9,251 1204.8,251.1 1206.8,251.2 1208.8,251.3 1210.7,251.4 1212.7,251.5 1214.7,251.6 1216.6,251.7 1218.6,251.7 1220.6,251.8 1222.5,251.9 1224.5,252 1226.5,252.1 1228.4,252.2 1230.4,252.3 1232.4,252.4 1234.3,252.5 1236.3,252.5 1238.3,252.6 1240.2,252.7 1242.2,252.8 1244.2,252.9 1246.1,253 1248.1,253.1 1250.1,253.2 1252,253.2 1254,253.3 1255.9,253.4 1257.9,253.5 1259.9,253.6 1261.8,253.7 1263.8,253.8 1265.8,253.9 1267.7,254 1269.7,254 1271.7,254.1 1273.6,254.2 1275.6,254.3 1277.6,254.4 1279.5,254.5 1281.5,254.6 1283.5,254.7 1285.4,254.8 1287.4,254.8 1289.4,254.9 1291.3,255 1293.3,255.1 1295.3,255.2 1297.2,255.3 1299.2,255.4 1301.2,255.5 1303.1,255.5 1305.1,255.6 1307.1,255.7 1309.1,255.8 1311,255.9 1313,256 1315,256.1 1316.9,256.2 1318.9,256.3 1320.9,256.3 1322.9,256.4 1324.8,256.5 1326.8,256.6 1328.8,256.7 1330.8,256.8 1332.7,256.9 1334.7,257 1336.7,257.1 1338.7,257.1 1340.6,257.2 1342.6,257.3 1344.6,257.4 1346.6,257.5 1348.6,257.6 1350.5,257.7 1352.5,257.8 1354.5,257.9 1356.5,257.9 1358.5,258 1360.5,258.1 1362.4,258.2 1364.4,258.3 1366.4,258.4 1368.4,258.5 1370.4,258.6 1372.4,258.7 1374.4,258.7 1376.4,258.8 1378.4,258.9 1380.4,259 1382.3,259.1 1384.3,259.2 1386.3,259.3 1388.3,259.4 1390.3,259.5 1392.3,259.5 1394.3,259.6 1396.3,259.7 1398.3,259.8 1400.3,259.9 1402.3,260 1404.3,260.1 1406.3,260.2 1408.3,260.3 1410.4,260.4 1412.4,260.4 1414.4,260.5 1416.4,260.6 1418.4,260.7 1420.4,260.8 1422.4,260.9 1424.4,261 1426.5,261.1 1428.5,261.2 1430.5,261.2 1432.5,261.3 1434.5,261.4 1436.6,261.5 1438.6,261.6 1440.6,261.7 1442.6,261.8 1444.7,261.9 1446.7,262 1448.7,262.1 1450.7,262.1 1452.8,262.2 1454.8,262.3 1456.8,262.4 1458.9,262.5 1460.9,262.6 1463,262.7 1465,262.8 1467,262.9 1469.1,263 1471.1,263 1473.2,263.1 1475.2,263.2 1477.3,263.3 1479.3,263.4 1481.4,263.5 1483.4,263.6 1485.5,263.7 1487.5,263.8 1489.6,263.9 1491.6,264 1493.7,264 1495.8,264.1 1497.8,264.2 1499.9,264.3 1502,264.4 1504,264.5 1506.1,264.6 1508.2,264.7 1510.3,264.8 1512.3,264.9 1514.4,264.9 1516.5,265 1518.6,265.1 1520.7,265.2 1522.7,265.3 1524.8,265.4 1526.9,265.5 1529,265.6 1531.1,265.7 1533.2,265.8 1535.3,265.9 1537.4,266 1539.5,266 1541.6,266.1 1543.7,266.2 1545.8,266.3 1547.8,266.4 1549.9,266.5 1551.8,266.6 1553.8,266.7 1555.7,266.7 1557.6,266.8 1559.5,266.9 1561.4,267 1563.3,267.1 1565.2,267.2 1567.1,267.2 1569,267.3 1571,267.4 1572.9,267.5 1574.8,267.6 1576.7,267.7 1578.6,267.7 1580.6,267.8 1582.5,267.9 1584.4,268 1586.3,268.1 1588.3,268.2 1590.2,268.2 1592.1,268.3 1594.1,268.4 1596,268.5 1597.9,268.6 1599.9,268.6 1601.8,268.7 1603.8,268.8 1605.7,268.9 1607.7,269 1609.6,269.1 1611.5,269.1 1613.5,269.2 1615.5,269.3 1617.4,269.4 1619.4,269.5 1621.3,269.6 1623.3,269.6 1625.2,269.7 1627.2,269.8 1629.2,269.9 1631.1,270 1633.1,270.1 1635.1,270.1 1637,270.2 1639,270.3 1641,270.4 1642.9,270.5 1644.9,270.6 1646.9,270.7 1648.9,270.7 1650.8,270.8 1652.8,270.9 1654.8,271 1656.8,271.1 1658.8,271.2 1660.7,271.2 1662.7,271.3 1664.7,271.4 1666.7,271.5 1668.7,271.6 1670.7,271.7 1672.7,271.7 1674.7,271.8 1676.6,271.9 1678.6,272 1680.6,272.1 1682.6,272.2 1684.6,272.2 1686.6,272.3 1688.6,272.4 1690.6,272.5 1692.6,272.6 1694.6,272.7 1696.6,272.8 1698.6,272.8 1700.6,272.9 1702.6,273 1704.7,273.1 1706.7,273.2 1708.7,273.3 1710.7,273.3 1712.7,273.4 1714.7,273.5 1716.7,273.6 1718.7,273.7 1720.7,273.8 1722.8,273.8 1724.8,273.9 1726.8,274 1728.8,274.1 1730.8,274.2 1732.9,274.3 1734.9,274.4 1736.9,274.4 1738.9,274.5 1740.9,274.6 1743,274.7 1745,274.8 1747,274.9 1749,274.9 1751.1,275 1753.1,275.1 1755.1,275.2 1757.1,275.3 1759.2,275.4 1761.2,275.5 1763.2,275.5 1765.3,275.6 1767.3,275.7 1769.3,275.8 1771.4,275.9 1773.4,276 1775.4,276.1 1777.5,276.1 1779.5,276.2 1781.5,276.3 1783.6,276.4 1785.6,276.5 1787.6,276.6 1789.7,276.6 1791.7,276.7 1793.7,276.8 1795.8,276.9 1797.8,277 1799.9,277.1 1801.9,277.2 1803.9,277.2 1806,277.3 1808,277.4 1810.1,277.5 1812.1,277.6 1814.1,277.7 1816.2,277.8 1818.2,277.8 1820.3,277.9 1822.3,278 1824.3,278.1 1826.4,278.2 1828.4,278.3 1830.5,278.3 1832.5,278.4 1834.6,278.5 1836.6,278.6 1838.7,278.7 1840.7,278.8 1842.7,278.9 1844.8,278.9 1846.8,279 1848.9,279.1 1850.9,279.2 1853,279.3 1855,279.4 1857.1,279.5 1859.1,279.5 1861.1,279.6 1863.2,279.7 1865.2,279.8 1867.3,279.9 1869.3,280 1871.4,280.1 1873.4,280.1 1875.5,280.2 1877.5,280.3 1879.5,280.4 1881.6,280.5 1883.6,280.6 1885.7,280.6 1887.7,280.7 1889.8,280.8 1891.8,280.9 1893.9,281 1895.9,281.1 1897.9,281.2 1900,281.2 1902,281.3 1904.1,281.4 1906.1,281.5 1908.1,281.6 1910.2,281.7 1912.2,281.8 1914.3,281.8 1916.3,281.9 1918.4,282 1920.4,282.1 1922.4,282.2 1924.5,282.3 1926.5,282.4 1928.6,282.4 1930.6,282.5 1932.6,282.6 1934.7,282.7 1936.7,282.8 1938.7,282.9 1940.8,283 1942.8,283 1944.8,283.1 1946.9,283.2 1948.9,283.3 1950.9,283.4 1953,283.5 1955,283.5 1957,283.6 1959.1,283.7 1961.1,283.8 1963.1,283.9 1965.2,284 1967.2,284.1 1969.2,284.1 1971.3,284.2 1973.3,284.3 1975.3,284.4 1977.3,284.5 1979.4,284.6 1981.4,284.7 1983.4,284.7 1985.4,284.8 1987.5,284.9 1989.5,285 1991.5,285.1 1993.5,285.2 1995.5,285.3 1997.6,285.3 1999.6,285.4 2001.6,285.5 2003.6,285.6 2005.6,285.7 2007.6,285.8 2009.6,285.8 2011.7,285.9 2013.7,286 2015.7,286.1 2017.7,286.2 2019.7,286.3 2021.7,286.4 2023.7,286.4 2025.7,286.5 2027.7,286.6 2029.7,286.7 2031.7,286.8 2033.7,286.9 2035.7,287 2037.7,287 2039.7,287.1 2041.7,287.2 2043.7,287.3 2045.7,287.4 2047.7,287.5 2049.7,287.5 2051.7,287.6 2053.7,287.7 2055.7,287.8 2057.7,287.9 2059.7,288 2061.7,288.1 2063.6,288.1 2065.6,288.2 2067.6,288.3 2069.6,288.4 2071.6,288.5 2073.6,288.6 2075.5,288.6 2077.5,288.7 2079.5,288.8 2081.5,288.9 2083.4,289 2085.4,289.1 2087.4,289.2 2089.3,289.2 2091.3,289.3 2093.3,289.4 2095.2,289.5 2097.2,289.6 2099.2,289.7 2101.1,289.7 2103.1,289.8 2105.1,289.9 2107.1,290 2109.1,290.1 2111.1,290.2 2113.1,290.3 2115.2,290.4 2117.2,290.4 2119.3,290.5 2121.3,290.6 2123.4,290.7 2125.4,290.8 2127.4,290.9 2129.5,291 2131.5,291.1 2133.6,291.1 2135.6,291.2 2137.6,291.3 2139.7,291.4 2141.7,291.5 2143.7,291.6 2145.8,291.7 2147.8,291.8 2149.8,291.9 2151.9,291.9 2153.9,292 2155.9,292.1 2158,292.2 2160,292.3 2162,292.4 2164.1,292.5 2166.1,292.6 2168.1,292.6 2170.1,292.7 2172.2,292.8 2174.2,292.9 2176.2,293 2178.2,293.1 2180.3,293.2 2182.3,293.3 2184.3,293.4 2186.3,293.4 2188.4,293.5 2190.4,293.6 2192.4,293.7 2194.4,293.8 2196.4,293.9 2198.5,294 2200.5,294.1 2202.5,294.1 2204.5,294.2 2206.5,294.3 2208.5,294.4 2210.6,294.5 2212.6,294.6 2214.6,294.7 2216.6,294.8 2218.6,294.9 2220.6,294.9 2222.6,295 2224.7,295.1 2226.7,295.2 2228.7,295.3 2230.7,295.4 2232.7,295.5 2234.7,295.6 2236.7,295.6 2238.7,295.7 2240.7,295.8 2242.7,295.9 2244.7,296 2246.8,296.1 2248.8,296.2 2250.8,296.3 2252.8,296.4 2254.8,296.4 2256.8,296.5 2258.8,296.6 2260.8,296.7 2262.8,296.8 2264.8,296.9 2266.8,297 2268.8,297.1 2270.8,297.1 2272.8,297.2 2274.8,297.3 2276.8,297.4 2278.8,297.5 2280.8,297.6 2282.8,297.7 2284.8,297.8 2286.8,297.9 2288.8,297.9 2290.8,298 2292.8,298.1 2294.8,298.2 2296.8,298.3 2298.8,298.4 2300.8,298.5 2302.8,298.6 2304.8,298.6 2306.8,298.7 2308.8,298.8 2310.8,298.9 2312.7,299 2314.7,299.1 2316.7,299.2 2318.7,299.3 2320.7,299.3 2322.7,299.4 2324.7,299.5 2326.7,299.6 2328.7,299.7 2330.7,299.8 2332.7,299.9 2334.7,300 2336.7,300.1 2338.6,300.1 2340.6,300.2 2342.6,300.3 2344.6,300.4 2346.6,300.5 2348.6,300.6 2350.6,300.7 2352.6,300.8 2354.6,300.8 2356.5,300.9 2358.5,301 2360.5,301.1 2362.5,301.2 2364.5,301.3 2366.5,301.4 2368.5,301.5 2370.5,301.6 2372.5,301.6 2374.4,301.7 2376.4,301.8 2378.4,301.9 2380.4,302 2382.4,302.1 2384.4,302.2 2386.4,302.3 2388.3,302.3 2390.3,302.4 2392.3,302.5 2394.3,302.6 2396.3,302.7 2398.3,302.8 2400.3,302.9 2402.2,303 2404.2,303 2406.2,303.1 2408.2,303.2 2410.2,303.3 2412.2,303.4 2414.1,303.5 2416.1,303.6 2418.1,303.7 2420.1,303.8 2422.1,303.8 2424.1,303.9 2426.1,304 2428,304.1 2430,304.2 2432,304.3 2434,304.4 2436,304.5 2438,304.5 2439.9,304.6 2441.9,304.7 2443.9,304.8 2445.9,304.9 2447.9,305 2449.9,305.1 2451.8,305.2 2453.8,305.3 2455.8,305.3 2457.8,305.4 2459.8,305.5 2461.8,305.6 2463.8,305.7 2465.7,305.8 2467.7,305.9 2469.7,306 2471.7,306 2473.7,306.1 2475.7,306.2 2477.6,306.3 2479.6,306.4 2481.6,306.5 2483.6,306.6 2485.6,306.7 2487.6,306.7 2489.6,306.8 2491.5,306.9 2493.5,307 2495.5,307.1 2497.5,307.2 2499.5,307.3 2501.5,307.4 2503.4,307.5 2505.4,307.5 2507.4,307.6 2509.4,307.7 2511.4,307.8 2513.4,307.9 2515.4,308 2517.4,308.1 2519.3,308.2 2521.3,308.2 2523.3,308.3 2525.3,308.4 2527.3,308.5 2529.3,308.6 2531.3,308.7 2533.3,308.8 2535.2,308.9 2537.2,309 2539.2,309 2541.2,309.1 2543.2,309.2 2545.2,309.3 2547.2,309.4 2549.2,309.5 2551.2,309.6 2553.2,309.7 2555.1,309.7 2557.1,309.8 2559.1,309.9 2561.1,310 2563.1,310.1 2565.1,310.2 2567.1,310.3 2569.1,310.4 2571.1,310.4 2573.1,310.5 2575.1,310.6 2577.1,310.7 2579.1,310.8 2581,310.9 2583,311 2585,311.1 2587,311.2 2589,311.2 2591,311.3 2593,311.4 2595,311.5 2597,311.6 2599,311.7 2601,311.8 2603,311.9 2605,311.9 2607,312 2609,312.1 2611,312.2 2613,312.3"/>
<path d="M967.5,329 965.5,329.3 963.6,329.6 961.6,329.9 959.7,330.2 957.8,330.5 955.9,330.8 953.9,331.1 952,331.4 950.1,331.7 948.2,331.9 946.4,332.2 944.5,332.5 942.6,332.8 940.7,333.1 938.8,333.4 936.9,333.7 935,334 933,334.3 931.1,334.6 929.2,334.9 927.2,335.2 925.2,335.5 923.3,335.8 921.3,336.1 919.2,336.4 917.2,336.7 915.1,337 913,337.2 910.9,337.5 908.8,337.8 906.6,338.1 904.5,338.4 902.4,338.7 900.3,339 898.4,339.2 896.6,339.4 894.8,339.7 893,339.9 891.2,340.1 889.4,340.3 887.5,340.5 885.7,340.8 883.8,341 882,341.2 880.1,341.4 878.2,341.7 876.3,341.9 874.3,342.1 872.4,342.3 870.5,342.5 868.5,342.8 866.5,343 864.5,343.2 862.5,343.4 860.5,343.7 858.5,343.9 856.5,344.1 854.5,344.3 852.4,344.5 850.4,344.8 848.3,345 846.3,345.2 844.2,345.4 842.2,345.6 840.1,345.9 838,346.1 835.9,346.3 833.8,346.5 831.8,346.7 829.7,347 827.6,347.2 825.5,347.4 823.4,347.6 821.3,347.8 819.2,348 817.1,348.3 815,348.5 812.9,348.7 810.8,348.9 808.7,349.1 806.6,349.3 804.6,349.5 802.5,349.7 800.4,350 798.3,350.2 796.3,350.4 794.2,350.6 792.2,350.8 790.1,351 788.1,351.2 786.1,351.4 784,351.6 782,351.8 780,352 778,352.2 776,352.4 774,352.6 772,352.8 770,353 768.1,353.2 766.1,353.3 764.1,353.5 762.1,353.7 760.1,353.9 758.2,354.1 756.2,354.2 754.2,354.4 752.3,354.6 750.3,354.8 748.3,355 746.3,355.1 744.4,355.3 742.4,355.5 740.4,355.6 738.5,355.8 736.5,356 734.5,356.1 732.6,356.3 730.6,356.5 728.6,356.7 726.7,356.8 724.7,357 722.7,357.2 720.7,357.3 718.8,357.5 716.8,357.7 714.8,357.8 712.8,358 710.8,358.2 708.8,358.4 706.9,358.5 704.9,358.7 702.9,358.9 700.9,359.1 698.9,359.2 696.9,359.4 694.9,359.6 692.8,359.8 690.8,360 688.8,360.2 686.8,360.3 684.7,360.5 682.7,360.7 680.7,360.9 678.6,361.1 676.6,361.3 674.5,361.5 672.5,361.7 670.4,361.9 668.3,362.1 666.3,362.3 664.2,362.6 662.1,362.8 660.1,363 658.1,363.2 656.2,363.4 654.2,363.6 652.3,363.8 650.4,364 648.5,364.3 646.5,364.5 644.6,364.7 642.6,364.9 640.7,365.1 638.7,365.4 636.7,365.6 634.8,365.8 632.8,366 630.8,366.3 628.8,366.5 626.9,366.7 624.9,367 622.9,367.2 620.9,367.4 618.9,367.7 616.9,367.9 614.9,368.1 612.9,368.4 610.9,368.6 608.9,368.9 606.9,369.1 604.9,369.4 602.8,369.6 600.8,369.9 598.8,370.1 596.8,370.4 594.7,370.6 592.7,370.9 590.7,371.1 588.7,371.4 586.6,371.6 584.6,371.9 582.6,372.1 580.5,372.4 578.5,372.6 576.5,372.9 574.4,373.1 572.4,373.4 570.3,373.6 568.3,373.9 566.3,374.2 564.2,374.4 562.2,374.7 560.1,374.9 558.1,375.2 556.1,375.4 554,375.7 552,375.9 550,376.2 547.9,376.5 545.9,376.7 543.8,377 541.8,377.2 539.8,377.5 537.7,377.7 535.7,378 533.7,378.2 531.7,378.5 529.6,378.7 527.6,379 525.6,379.2 523.6,379.5 521.6,379.7 519.5,380 517.5,380.2 515.5,380.5 513.5,380.7"/>
<path d="M967.5,328.5 965.5,328.7 963.5,328.8 961.4,329 959.4,329.1 957.4,329.3 955.3,329.5 953.3,329.6 951.2,329.8 949.1,329.9 947.1,330.1 945,330.3 942.9,330.4 940.8,330.6 938.7,330.8 936.6,330.9 934.5,331.1 932.4,331.3 930.3,331.4 928.2,331.6 926.1,331.8 924,331.9 921.9,332.1 919.7,332.2 917.6,332.4 915.5,332.6 913.4,332.7 911.2,332.9 909.1,333.1 907,333.2 904.9,333.4 902.7,333.6 900.6,333.7 898.5,333.9 896.3,334.1 894.2,334.2 892.1,334.4 889.9,334.6 887.8,334.7 885.7,334.9 883.6,335.1 881.4,335.2 879.3,335.4 877.2,335.6 875.1,335.7 873,335.9 870.8,336.1 868.7,336.2 866.6,336.4 864.5,336.6 862.4,336.7 860.4,336.9 858.3,337.1 856.2,337.2 854.1,337.4 852,337.6 850,337.7 847.9,337.9 845.9,338 843.8,338.2 841.8,338.4 839.7,338.5 837.7,338.7 835.7,338.8 833.7,339 831.7,339.2 829.7,339.3 827.7,339.5 825.7,339.6 823.7,339.8 821.8,339.9 819.8,340.1 817.9,340.2 816,340.4 814,340.6 812.1,340.7 810.2,340.9 808.3,341 806.4,341.2 804.6,341.3 802.7,341.4 800.9,341.6 799,341.7 797.2,341.9 795.4,342 793.6,342.2 791.8,342.3 790,342.5 788.3,342.6 786.5,342.7 784.8,342.9 783.1,343 781.4,343.2 779.7,343.3 778,343.4 776.1,343.6 774.2,343.7 772.1,343.9 769.9,344.1 767.6,344.3 765.3,344.4 763,344.6 760.7,344.8 758.5,344.9 756.3,345.1 754,345.2 751.8,345.4 749.7,345.5 747.5,345.7 745.4,345.8 743.3,346 741.2,346.1 739.1,346.3 737,346.4 734.9,346.5 732.9,346.7 730.9,346.8 728.9,346.9 726.9,347.1 724.9,347.2 722.9,347.4 720.9,347.5 719,347.7 717.1,347.8 715.1,348 713.2,348.1 711.3,348.3 709.4,348.4 707.5,348.6 705.7,348.8 703.8,349 701.9,349.1 700.1,349.3 698.2,349.5 696.4,349.7 694.5,349.9 692.7,350.1 690.9,350.4 689,350.6 687.2,350.8 685.3,351.1 683.3,351.4 681.3,351.7 679.1,352 677,352.3 674.8,352.6 672.7,353 670.5,353.4 668.4,353.7 666.3,354.1 664.2,354.5 662.1,354.9 660,355.3 658,355.7 655.9,356.1 653.9,356.5 651.9,356.9 649.9,357.3 647.9,357.7 645.9,358.2 644,358.6 642,359 640.1,359.5 638.1,359.9 636.2,360.3 634.3,360.8 632.4,361.2 630.5,361.7 628.6,362.1 626.6,362.5 624.7,363 622.7,363.4 620.7,363.9 618.6,364.4 616.5,364.9 614.4,365.4 612.3,366 610.2,366.5 608.1,367 606.1,367.5 604,368.1 602,368.6 600,369.1 597.9,369.7 596,370.2 594,370.7 592,371.3 590.1,371.8 588.2,372.3 586.3,372.9 584.5,373.4 582.6,373.9 580.8,374.5 578.9,375 577,375.6 575,376.2 572.9,376.8 570.8,377.3 568.6,377.9 566.5,378.5 564.5,379.1 562.5,379.7 560.5,380.3 558.6,381 556.8,381.6 555,382.3 553.3,383.1 551.6,383.9 549.9,384.9 548.3,386 546.7,387.2 545.2,388.5 543.8,389.8 542.3,391.2 540.9,392.6 539.4,393.9 537.9,395.1 536.3,396.3 534.7,397.4 533,398.5 531.3,399.5 529.5,400.6 527.7,401.6 525.8,402.6 523.9,403.7 521.9,404.7 520.1,405.6 518.3,406.5 516.6,407.3 515,408.1 513.4,408.9 511.7,409.7 510,410.5 508.2,411.3 506.4,412.2 504.5,413 502.6,413.8 500.7,414.7 498.7,415.5 496.8,416.4 494.8,417.3 492.8,418.1 490.8,419 488.8,419.8 486.7,420.7 484.7,421.5 482.7,422.3 480.8,423.2 478.8,424 476.8,424.8 474.9,425.6 473,426.3 471.1,427.1 469.2,427.9 467.2,428.6 465.3,429.4 463.3,430.1 461.4,430.9 459.4,431.6 457.5,432.3 455.5,433 453.5,433.8 451.6,434.5 449.6,435.2 447.7,435.9 445.7,436.6 443.8,437.2 441.9,437.9 440,438.6 438.1,439.3 436.3,439.9 434.4,440.6 432.6,441.2 430.8,441.9 429,442.5 427.2,443.2 425.3,443.9 423.4,444.6 421.4,445.3 419.5,446 417.5,446.7 415.6,447.4 413.7,448.1 411.8,448.8 410,449.5 408.1,450.2 406.3,450.9 404.5,451.6 402.6,452.3 400.8,452.9 398.9,453.6 397.1,454.3 395.2,455"/>
<path d="M967.5,330 965.5,330.4 963.6,330.8 961.6,331.1 959.7,331.5 957.8,331.9 955.8,332.3 953.9,332.7 952,333 950.1,333.4 948.2,333.8 946.3,334.2 944.4,334.6 942.5,334.9 940.6,335.3 938.7,335.7 936.8,336.1 934.9,336.5 932.9,336.8 931,337.2 929.1,337.6 927.1,338 925.1,338.4 923.2,338.7 921.2,339.1 919.1,339.5 917.1,339.9 915,340.3 913,340.7 910.9,341.1 908.7,341.4 906.6,341.8 904.5,342.2 902.3,342.6 900.3,342.9 898.4,343.3 896.5,343.6 894.7,343.9 892.9,344.2 891.1,344.5 889.3,344.8 887.5,345.1 885.6,345.4 883.7,345.7 881.9,346 880,346.3 878,346.6 876.1,346.9 874.2,347.2 872.2,347.5 870.2,347.8 868.3,348.1 866.3,348.4 864.3,348.7 862.3,349 860.3,349.3 858.2,349.6 856.2,349.9 854.2,350.2 852.1,350.5 850.1,350.8 848,351.1 846,351.4 843.9,351.7 841.8,352 839.7,352.3 837.7,352.6 835.6,352.9 833.5,353.2 831.5,353.6 829.4,353.9 827.3,354.2 825.2,354.5 823.2,354.8 821.1,355.1 819,355.4 817,355.8 814.9,356.1 812.9,356.4 810.8,356.7 808.8,357 806.7,357.4 804.7,357.7 802.7,358 800.7,358.3 798.7,358.7 796.7,359 794.7,359.3 792.8,359.7 790.8,360 788.9,360.3 786.9,360.7 784.9,361 782.9,361.4 780.9,361.7 778.8,362.1 776.8,362.5 774.7,362.9 772.7,363.3 770.6,363.6 768.6,364 766.6,364.4 764.5,364.8 762.5,365.2 760.5,365.6 758.5,366 756.5,366.4 754.5,366.8 752.5,367.2 750.5,367.6 748.5,368 746.5,368.4 744.5,368.8 742.5,369.2 740.5,369.6 738.5,370 736.5,370.4 734.5,370.8 732.6,371.2 730.6,371.6 728.6,372 726.6,372.4 724.6,372.9 722.7,373.3 720.7,373.7 718.7,374.1 716.7,374.5 714.8,374.9 712.8,375.3 710.8,375.7 708.8,376.1 706.9,376.5 704.9,377 702.9,377.4 700.9,377.8 698.9,378.2 697,378.6 695,379 693,379.4 691,379.8 689,380.2 687,380.6 685,381"/>
<path d="M967.5,331 965.6,331.6 963.7,332.2 961.9,332.7 960,333.3 958.2,333.9 956.3,334.5 954.5,335 952.6,335.6 950.7,336.2 948.9,336.8 947,337.3 945,337.9 943.1,338.5 941.1,339.1 939.1,339.7 937.2,340.3 935.2,340.9 933.4,341.5 931.6,342 929.8,342.6 928,343.1 926.2,343.7 924.4,344.2 922.6,344.7 920.8,345.3 918.9,345.8 917.1,346.4 915.2,347 913.3,347.5 911.4,348.1 909.5,348.7 907.5,349.3 905.5,349.9 903.6,350.4 901.6,351 899.6,351.6 897.5,352.2 895.5,352.9 893.4,353.5 891.3,354.1 889.3,354.7 887.2,355.3 885.3,355.9 883.4,356.5 881.5,357 879.7,357.6 877.9,358.1 876.1,358.7 874.3,359.2 872.4,359.8 870.5,360.3 868.7,360.9 866.8,361.5 864.9,362 862.9,362.6 861,363.2 859.1,363.8 857.1,364.4 855.1,365 853.1,365.6 851.2,366.2 849.2,366.8 847.2,367.4 845.2,368 843.1,368.6 841.1,369.2 839.1,369.8 837.1,370.4 835.1,371 833,371.6 831,372.2 829,372.8 827,373.4 824.9,374 822.9,374.6 820.9,375.2 818.9,375.8 816.9,376.4 814.9,377 812.9,377.6 810.9,378.2 808.9,378.8 807,379.4 805,380"/>
<path d="M998.3,332L963.8,380"/>
<path d="M1994.7,332L1993.4,380"/>
<path d="M2007.6,380 2007.8,378 2008,376 2008.3,374 2008.5,372 2008.7,370 2009,368 2009.2,366 2009.4,364 2009.6,362 2009.7,360 2009.9,358 2009.9,356 2010,354 2010,352 2010,350 2010,348 2009.9,346 2009.8,344 2009.7,342 2009.6,340 2009.6,338 2009.5,336 2009.4,334 2009.3,332"/>
<path d="M2034.2,332 2036.1,332.7 2038,333.5 2039.9,334.2 2041.8,334.9 2043.7,335.7 2045.5,336.4 2047.4,337.1 2049.3,337.8 2051.2,338.5 2053.1,339.2 2054.9,340 2056.8,340.7 2058.7,341.4 2060.6,342.1 2062.5,342.8 2064.4,343.6 2066.3,344.3 2068.2,345.1 2070.1,345.8 2072,346.6 2073.9,347.3 2075.8,348.1 2077.8,348.9 2079.7,349.7 2081.6,350.5 2083.6,351.3 2085.5,352.1 2087.3,352.8 2089.1,353.6 2090.9,354.4 2092.7,355.1 2094.5,355.9 2096.3,356.7 2098.1,357.5 2099.9,358.3 2101.7,359.1 2103.5,359.9 2105.3,360.7 2107.1,361.5 2109,362.3 2110.8,363.2 2112.6,364 2114.5,364.8 2116.3,365.7 2118.2,366.5 2120,367.4 2121.9,368.2 2123.7,369.1 2125.6,369.9 2127.4,370.8 2129.3,371.6 2131.1,372.5 2133,373.3 2134.8,374.2 2136.7,375 2138.5,375.8 2140.4,376.7 2142.2,377.5 2144,378.3 2145.9,379.2 2147.7,380"/>
<path d="M2677,331.1 2675.1,331.6 2673.2,332 2671.3,332.5 2669.5,332.9 2667.7,333.4 2665.9,333.8 2664.1,334.3 2662.2,334.7 2660.2,335.2 2658.2,335.7 2656.1,336.2 2653.9,336.7 2651.6,337.3 2649.4,337.9 2647.4,338.4 2645.6,338.8 2644.1,339.2 2642.7,339.5 2641.4,339.9 2640,340.2 2638.7,340.5 2637.3,340.9 2635.9,341.2 2634.4,341.6 2632.9,342 2631.4,342.4 2629.8,342.8 2628.3,343.2 2626.7,343.6 2625,344 2623.4,344.4 2621.7,344.8 2620,345.3 2618.2,345.7 2616.5,346.1 2614.7,346.6 2612.9,347.1 2611.1,347.5 2609.2,348 2607.3,348.5 2605.4,348.9 2603.5,349.4 2601.6,349.9 2599.7,350.4 2597.7,350.9 2595.7,351.4 2593.7,351.9 2591.7,352.4 2589.7,353 2587.6,353.5 2585.6,354 2583.5,354.5 2581.4,355.1 2579.3,355.6 2577.2,356.1 2575.1,356.7 2573,357.2 2570.8,357.7 2568.7,358.3 2566.6,358.8 2564.4,359.4 2562.2,359.9 2560.1,360.5 2557.9,361.1 2555.7,361.6 2553.5,362.2 2551.3,362.7 2549.1,363.3 2547,363.8 2544.8,364.4 2542.6,365 2540.4,365.5 2538.2,366.1 2536,366.6 2533.8,367.2 2531.6,367.7 2529.4,368.3 2527.2,368.9 2525.1,369.4 2522.9,370 2520.7,370.5 2518.6,371.1 2516.4,371.6 2514.3,372.2 2512.2,372.7 2510,373.2 2507.9,373.8 2505.8,374.3 2503.7,374.9 2501.6,375.4 2499.6,375.9 2497.5,376.4 2495.5,377 2493.4,377.5 2491.4,378 2489.4,378.5 2487.4,379 2485.5,379.5 2483.5,380"/>
<path d="M2732,331.6L2732,380"/>
<path d="M2786.5,331.6 2788.4,332 2790.3,332.4 2792.1,332.9 2793.9,333.3 2795.7,333.7 2797.5,334.1 2799.3,334.4 2801.1,334.8 2802.8,335.2 2804.6,335.6 2806.4,336 2808.3,336.4 2810.1,336.8 2812,337.3 2814,337.7 2816,338.2 2818.1,338.7 2820.2,339.2 2822.4,339.7 2824.6,340.2 2826.7,340.7 2828.7,341.2 2830.5,341.7 2832.1,342.1 2833.7,342.5 2835.2,342.9 2836.7,343.2 2838.2,343.6 2839.8,344 2841.4,344.4 2843,344.9 2844.6,345.3 2846.3,345.7 2847.9,346.2 2849.7,346.6 2851.4,347.1 2853.1,347.5 2854.9,348 2856.7,348.5 2858.5,348.9 2860.4,349.4 2862.2,349.9 2864.1,350.4 2866,350.9 2867.9,351.4 2869.8,352 2871.7,352.5 2873.7,353 2875.6,353.5 2877.6,354.1 2879.6,354.6 2881.6,355.1 2883.6,355.7 2885.7,356.2 2887.7,356.8 2889.8,357.3 2891.8,357.9 2893.9,358.5 2896,359 2898.1,359.6 2900.1,360.2 2902.2,360.7 2904.3,361.3 2906.5,361.9 2908.6,362.5 2910.7,363.1 2912.8,363.6 2914.9,364.2 2917.1,364.8 2919.2,365.4 2921.3,366 2923.4,366.5 2925.6,367.1 2927.7,367.7 2929.8,368.3 2931.9,368.9 2934.1,369.4 2936.2,370 2938.3,370.6 2940.4,371.2 2942.5,371.7 2944.6,372.3 2946.7,372.9 2948.8,373.4 2950.9,374 2952.9,374.6 2955,375.1 2957,375.7 2959.1,376.2 2961.1,376.8 2963.1,377.3 2965.1,377.9 2967.1,378.4 2969.1,378.9 2971,379.5 2973,380"/>
<path d="M2853,325.5 2855,325.7 2857,326 2859,326.2 2861,326.4 2863,326.6 2865.1,326.9 2867.1,327.1 2869.1,327.3 2871.2,327.5 2873.2,327.8 2875.3,328 2877.4,328.2 2879.4,328.4 2881.5,328.7 2883.6,328.9 2885.6,329.1 2887.7,329.3 2889.8,329.5 2891.9,329.8 2894,330 2896.1,330.2 2898.2,330.4 2900.3,330.7 2902.4,330.9 2904.5,331.1 2906.6,331.3 2908.7,331.5 2910.8,331.8 2913,332 2915.1,332.2 2917.2,332.4 2919.3,332.6 2921.4,332.9 2923.6,333.1 2925.7,333.3 2927.8,333.5 2929.9,333.7 2932.1,334 2934.2,334.2 2936.3,334.4 2938.4,334.6 2940.6,334.9 2942.7,335.1 2944.8,335.3 2946.9,335.5 2949,335.7 2951.1,336 2953.3,336.2 2955.4,336.4 2957.5,336.6 2959.6,336.8 2961.7,337.1 2963.8,337.3 2965.9,337.5 2968,337.7 2970.1,337.9 2972.2,338.2 2974.3,338.4 2976.3,338.6 2978.4,338.8 2980.5,339.1 2982.6,339.3 2984.6,339.5 2986.7,339.7 2988.7,340 2990.8,340.2 2992.8,340.4 2994.9,340.6 2996.9,340.9 2998.9,341.1 3000.9,341.3 3002.9,341.5 3004.9,341.8 3006.9,342 3008.9,342.2 3010.9,342.4 3012.9,342.7 3014.9,342.9 3016.8,343.1 3018.8,343.4 3020.7,343.6 3022.7,343.8 3024.6,344.1 3026.5,344.3 3028.4,344.5 3030.3,344.8 3032.2,345 3034.1,345.2 3036,345.5 3037.8,345.7 3039.7,345.9 3041.5,346.2 3043.3,346.4 3045.2,346.6 3047,346.9 3048.8,347.1 3050.6,347.3 3052.3,347.6 3054.1,347.8 3055.9,348.1 3057.6,348.3 3059.3,348.5 3061,348.8 3062.7,349 3064.4,349.3 3066.1,349.5 3067.8,349.8 3069.4,350 3071.1,350.3 3072.8,350.5 3074.5,350.8 3076.4,351.1 3078.5,351.4 3080.8,351.8 3083.1,352.1 3085.5,352.5 3087.8,352.9 3090.2,353.3 3092.6,353.6 3095,354 3097.4,354.4 3099.7,354.8 3102.1,355.2 3104.4,355.6 3106.8,355.9 3109.1,356.3 3111.4,356.7 3113.7,357.1 3116,357.5 3118.3,357.9 3120.5,358.3 3122.7,358.7 3125,359.1 3127.1,359.4 3129.3,359.8 3131.4,360.2 3133.6,360.6 3135.7,361 3137.7,361.4 3139.8,361.8 3141.8,362.2 3143.7,362.6 3145.7,363 3147.6,363.4 3149.4,363.8 3151.3,364.2 3153.1,364.6 3154.8,365 3156.6,365.4 3158.2,365.9 3159.9,366.3 3161.5,366.7 3163,367.1 3164.5,367.5 3166,367.9 3167.4,368.3 3168.7,368.7 3170,369.1 3171.3,369.6 3172.6,370 3174,370.5 3175.6,371.2 3177.3,371.9 3179.2,372.8 3181,373.7 3182.7,374.6 3184.3,375.7 3185.8,376.8 3187.3,378.1 3188.6,379.5 3189.9,380.9 3191.2,382.5 3192.4,384.1 3193.6,385.9 3194.8,387.7 3195.9,389.6 3196.9,391.5 3198,393.5 3198.9,395.5 3199.8,397.5 3200.6,399.5 3201.3,401.5 3201.9,403.5 3202.5,405.6 3203,407.7 3203.4,409.8 3203.8,412 3204,414.2 3204,416.4 3204,418.5 3203.8,420.6 3203.6,422.7 3203.2,424.7 3202.8,426.5 3202.3,428.4 3201.7,430.2 3201.1,432.1 3200.4,434 3199.5,435.8 3198.7,437.7 3197.7,439.5 3196.7,441.4 3195.6,443.2 3194.5,445 3193.3,446.7 3192.2,448.4 3191,449.9 3189.8,451.4 3188.6,452.8 3187.3,454.2 3186,455.6 3184.6,457 3183.2,458.3 3181.7,459.7 3180.2,461 3178.7,462.4 3177.1,463.7 3175.5,465 3173.8,466.3 3172.1,467.6 3170.4,468.9 3168.6,470.2 3166.8,471.4 3165,472.7 3163.2,473.9 3161.5,475.1 3159.7,476.2 3158.1,477.3 3156.5,478.3 3154.9,479.2 3153.4,480.2 3151.8,481.1 3150.2,482 3148.6,483 3147,483.9 3145.3,484.8 3143.7,485.7 3142,486.6 3140.3,487.5 3138.6,488.3 3136.8,489.2 3135.1,490.1 3133.3,490.9 3131.5,491.8 3129.6,492.6 3127.8,493.5 3125.9,494.3 3124,495.1 3122.1,495.9 3120.1,496.7 3118.2,497.5 3116.2,498.3 3114.1,499.1 3112.1,499.8 3110,500.6 3107.9,501.4 3105.8,502.1 3103.6,502.8 3101.6,503.5 3099.6,504.1 3097.8,504.7 3096,505.3 3094.3,505.8 3092.7,506.2 3091,506.7 3089.3,507.2 3087.6,507.6 3085.8,508.1 3084.1,508.5 3082.3,508.9 3080.5,509.4 3078.7,509.8 3076.8,510.2 3075,510.6 3073.1,511 3071.2,511.4 3069.3,511.8 3067.4,512.2 3065.4,512.6 3063.5,513 3061.5,513.4 3059.5,513.7 3057.6,514.1 3055.6,514.5 3053.5,514.8 3051.5,515.2 3049.5,515.5 3047.4,515.9 3045.4,516.2 3043.3,516.6 3041.3,516.9 3039.2,517.3 3037.1,517.6 3035,517.9 3032.9,518.3 3030.8,518.6 3028.7,518.9 3026.6,519.3 3024.5,519.6 3022.4,519.9 3020.2,520.2 3018.1,520.6 3016,520.9 3013.9,521.2 3011.7,521.5 3009.6,521.9 3007.5,522.2 3005.4,522.5 3003.3,522.8 3001.1,523.2 2999,523.5 2996.9,523.8 2994.8,524.1 2992.7,524.5 2990.6,524.8 2988.5,525.1 2986.4,525.5 2984.3,525.8 2982.3,526.2 2980.2,526.5 2978.1,526.9 2976.1,527.2 2974.1,527.6 2972,527.9 2970,528.3 2968,528.6 2966,529"/>
<path d="M195,405.5L90,455"/>
<path d="M220.7,405.5 219.9,407.4 219,409.3 218.1,411.1 217.3,413 216.4,414.9 215.5,416.8 214.7,418.6 213.8,420.5 213,422.4 212.2,424.3 211.5,426.2 210.7,428.1 210,430.1 209.4,432.1 208.7,434.1 208.1,436.2 207.6,438.3 207,440.4 206.5,442.4 206,444.5 205.5,446.6 205,448.7 204.5,450.8 204,452.9 203.5,455"/>
<path d="M184.2,480.5L141.4,529"/>
<path d="M210,480.5L252.8,529"/>
<path d="M715.5,405.5 713.6,406 711.6,406.5 709.7,406.9 707.8,407.4 705.8,407.9 703.9,408.4 702,408.8 700.1,409.3 698.2,409.8 696.3,410.2 694.4,410.7 692.4,411.2 690.5,411.6 688.6,412.1 686.7,412.6 684.8,413 682.9,413.5 680.9,414 679,414.5 677.1,414.9 675.1,415.4 673.2,415.9 671.2,416.4 669.3,416.9 667.3,417.4 665.3,417.9 663.3,418.4 661.3,419 659.3,419.5 657.3,420 655.3,420.5 653.3,421.1 651.4,421.6 649.5,422.1 647.6,422.6 645.6,423.1 643.7,423.7 641.7,424.2 639.7,424.7 637.6,425.3 635.6,425.8 633.5,426.4 631.4,426.9 629.3,427.5 627.2,428 625.1,428.6 623,429.2 620.9,429.8 618.8,430.3 616.7,430.9 614.6,431.5 612.5,432.1 610.4,432.7 608.3,433.2 606.3,433.8 604.2,434.4 602.2,435 600.2,435.6 598.2,436.1 596.2,436.7 594.3,437.3 592.4,437.8 590.6,438.4 588.8,439 587,439.5 585.2,440.1 583.5,440.6 581.9,441.2 580.3,441.7 578.7,442.2 577.1,442.8 575.5,443.4 573.7,444.1 571.8,444.8 569.8,445.6 567.8,446.5 565.9,447.3 564,448.2 562.2,449 560.4,449.9 558.7,450.7 557,451.6 555.3,452.4 553.5,453.3 551.8,454.1 550,455"/>
<path d="M734.8,405.5L664.1,455"/>
<path d="M677,455L749.8,405.5"/>
<path d="M923.3,405.5L816.2,455"/>
<path d="M947.7,405.5 947.3,407.6 946.9,409.8 946.4,411.9 946,414 945.6,416.1 945.2,418.3 944.9,420.4 944.5,422.6 944.3,424.8 944.1,427 944,429.1 944,431.2 944,433.3 944,435.4 944.1,437.6 944.2,439.7 944.4,441.9 944.5,444.1 944.7,446.3 944.9,448.5 945,450.7 945.2,452.8 945.3,455"/>
<path d="M959.8,455 960.1,452.9 960.4,450.9 960.7,448.8 961,446.7 961.4,444.7 961.7,442.6 962,440.5 962.2,438.5 962.4,436.4 962.6,434.3 962.7,432.3 962.8,430.2 962.8,428.1 962.7,426.1 962.6,424 962.4,422 962.2,419.9 962,417.8 961.7,415.8 961.4,413.7 961.2,411.7 960.9,409.6 960.6,407.6 960.4,405.5"/>
<path d="M990,405.5L1119,455"/>
<path d="M421,479.1 423,479.3 424.9,479.6 426.8,479.8 428.7,480 430.6,480.3 432.5,480.5 434.4,480.7 436.2,481 438.1,481.2 440,481.4 441.8,481.6 443.7,481.9 445.6,482.1 447.5,482.3 449.5,482.6 451.4,482.8 453.4,483 455.5,483.3 457.6,483.5 459.7,483.8 461.8,484.1 464.1,484.3 466.3,484.6 468.4,484.9 470.5,485.1 472.4,485.4 474.1,485.6 475.8,485.8 477.5,486 479.2,486.2 480.9,486.4 482.7,486.6 484.5,486.8 486.3,487.1 488.1,487.3 490,487.5 491.8,487.7 493.7,487.9 495.7,488.2 497.6,488.4 499.6,488.6 501.5,488.9 503.5,489.1 505.5,489.3 507.6,489.6 509.6,489.8 511.7,490.1 513.7,490.3 515.8,490.6 517.9,490.8 520,491.1 522.1,491.3 524.2,491.6 526.4,491.8 528.5,492.1 530.6,492.4 532.8,492.6 534.9,492.9 537,493.1 539.2,493.4 541.3,493.7 543.5,493.9 545.6,494.2 547.8,494.5 549.9,494.7 552.1,495 554.2,495.3 556.3,495.5 558.4,495.8 560.5,496.1 562.6,496.3 564.7,496.6 566.8,496.9 568.9,497.2 570.9,497.4 573,497.7 575,498 577,498.2 579,498.5 581,498.8 583,499.1 584.9,499.3 586.8,499.6 588.8,499.9 590.7,500.1 592.7,500.4 594.7,500.7 596.7,501 598.8,501.3 600.9,501.6 603,502 605,502.3 607.1,502.6 609.1,502.9 611.2,503.2 613.2,503.5 615.2,503.8 617.2,504.2 619.2,504.5 621.2,504.8 623.2,505.1 625.2,505.4 627.2,505.8 629.2,506.1 631.1,506.4 633.1,506.7 635,507.1 637,507.4 638.9,507.7 640.9,508 642.8,508.4 644.8,508.7 646.7,509 648.7,509.4 650.6,509.7 652.5,510 654.5,510.4 656.4,510.7 658.3,511 660.2,511.4 662.2,511.7 664.1,512.1 666.1,512.4 668,512.7 669.9,513.1 671.9,513.4 673.8,513.8 675.8,514.1 677.7,514.5 679.7,514.8 681.6,515.2 683.6,515.5 685.6,515.9 687.6,516.2 689.6,516.6 691.6,516.9 693.6,517.3 695.6,517.7 697.6,518 699.6,518.4 701.5,518.8 703.5,519.1 705.5,519.5 707.5,519.9 709.5,520.3 711.5,520.6 713.5,521 715.5,521.4 717.4,521.8 719.4,522.2 721.4,522.5 723.4,522.9 725.4,523.3 727.4,523.7 729.4,524.1 731.3,524.5 733.3,524.8 735.3,525.2 737.3,525.6 739.3,526 741.3,526.4 743.2,526.8 745.2,527.1 747.2,527.5 749.2,527.9 751.2,528.3 753.2,528.7 755.1,529.1 757.1,529.5 759.1,529.8 761.1,530.2 763.1,530.6 765.1,531 767,531.4 769,531.7 771,532.1 773,532.5"/>
<path d="M421,479.1 423,479.3 424.9,479.6 426.8,479.8 428.7,480.1 430.6,480.3 432.5,480.6 434.4,480.8 436.2,481.1 438.1,481.3 440,481.5 441.8,481.8 443.7,482 445.6,482.3 447.5,482.5 449.5,482.8 451.4,483 453.4,483.3 455.5,483.5 457.5,483.7 459.7,484 461.8,484.2 464,484.5 466.3,484.7 468.4,484.9 470.5,485.1 472.4,485.3 474.2,485.5 475.9,485.7 477.6,485.8 479.4,486 481.1,486.1 482.9,486.3 484.7,486.4 486.5,486.5 488.4,486.7 490.3,486.8 492.2,487 494.1,487.1 496.1,487.3 498.1,487.4 500.1,487.5 502.1,487.7 504.1,487.8 506.2,488 508.2,488.1 510.3,488.2 512.4,488.4 514.5,488.5 516.6,488.7 518.8,488.8 520.9,488.9 523.1,489.1 525.2,489.2 527.4,489.4 529.5,489.5 531.7,489.6 533.9,489.8 536.1,489.9 538.3,490.1 540.4,490.2 542.6,490.4 544.8,490.5 547,490.7 549.2,490.8 551.3,491 553.5,491.1 555.7,491.3 557.8,491.4 560,491.6 562.1,491.7 564.2,491.9 566.4,492 568.5,492.2 570.6,492.4 572.6,492.5 574.7,492.7 576.8,492.9 578.8,493 580.8,493.2 582.8,493.4 584.8,493.6 586.7,493.7 588.7,493.9 590.7,494.1 592.7,494.3 594.7,494.5 596.8,494.8 598.9,495 601,495.2 603.1,495.4 605.2,495.7 607.3,495.9 609.3,496.2 611.3,496.4 613.4,496.6 615.4,496.9 617.4,497.1 619.4,497.4 621.4,497.6 623.4,497.9 625.3,498.2 627.3,498.4 629.3,498.7 631.2,498.9 633.2,499.2 635.1,499.5 637.1,499.7 639,500 641,500.3 642.9,500.5 644.9,500.8 646.9,501.1 648.8,501.3 650.8,501.6 652.8,501.9 654.7,502.1 656.7,502.4 658.7,502.7 660.7,502.9 662.7,503.2 664.8,503.5 666.8,503.7 668.9,504 670.9,504.3 673,504.5 675.1,504.8 677.2,505 679.3,505.3 681.4,505.5 683.4,505.8 685.4,506 687.3,506.2 689.2,506.4 691.1,506.7 693,506.9 694.9,507.1 696.8,507.3 698.7,507.5 700.7,507.7 702.6,508 704.5,508.2 706.5,508.4 708.5,508.6 710.4,508.8 712.4,509 714.4,509.3 716.4,509.5 718.4,509.7 720.4,509.9 722.4,510.1 724.4,510.3 726.4,510.5 728.4,510.8 730.5,511 732.5,511.2 734.5,511.4 736.5,511.6 738.6,511.8 740.6,512.1 742.7,512.3 744.7,512.5 746.7,512.7 748.8,512.9 750.8,513.1 752.9,513.3 754.9,513.5 757,513.8 759,514 761,514.2 763.1,514.4 765.1,514.6 767.2,514.8 769.2,515 771.2,515.2 773.2,515.4 775.3,515.6 777.3,515.8 779.3,516 781.3,516.2 783.3,516.4 785.3,516.6 787.3,516.8 789.3,517 791.3,517.2 793.3,517.4 795.2,517.6 797.2,517.8 799.2,518 801.1,518.2 803.1,518.4 805.1,518.6 807.1,518.8 809.2,519 811.2,519.2 813.3,519.4 815.3,519.6 817.4,519.8 819.5,520 821.5,520.2 823.6,520.4 825.6,520.6 827.6,520.8 829.7,521 831.7,521.2 833.7,521.4 835.8,521.5 837.8,521.7 839.8,521.9 841.8,522.1 843.8,522.3 845.9,522.5 847.9,522.7 849.9,522.9 851.9,523 853.9,523.2 855.9,523.4 857.9,523.6 859.9,523.8 861.9,523.9 863.9,524.1 865.9,524.3 867.9,524.5 869.9,524.7 871.9,524.9 873.9,525 875.9,525.2 877.9,525.4 879.9,525.6 881.9,525.8 883.9,525.9 885.9,526.1 887.9,526.3 889.9,526.5 891.9,526.7 893.9,526.8 895.9,527 897.9,527.2 899.9,527.4 901.9,527.6 903.9,527.8 906,527.9 908,528.1 910,528.3 912,528.5"/>
<path d="M1032.8,331.6 1034.6,332.6 1036.3,333.6 1038.1,334.6 1039.8,335.6 1041.6,336.6 1043.4,337.5 1045.1,338.5 1046.9,339.5 1048.6,340.5 1050.4,341.5 1052.1,342.5 1053.9,343.5 1055.7,344.5 1057.4,345.5 1059.2,346.4 1060.9,347.4 1062.7,348.4 1064.5,349.4 1066.2,350.4 1068,351.4 1069.7,352.4 1071.5,353.4 1073.2,354.4 1075,355.3 1076.8,356.3 1078.5,357.3 1080.3,358.3 1082,359.3 1083.8,360.3 1085.6,361.3 1087.3,362.3 1089.1,363.3 1090.8,364.2 1092.6,365.2 1094.3,366.2 1096.1,367.2 1097.9,368.2 1099.6,369.2 1101.4,370.2 1103.1,371.2 1104.9,372.2 1106.7,373.2 1108.4,374.1 1110.2,375.1 1111.9,376.1 1113.7,377.1 1115.5,378.1 1117.2,379.1 1119,380.1 1120.7,381.1 1122.5,382.1 1124.3,383.1 1126,384.1 1127.8,385.1 1129.5,386.1 1131.3,387 1133.1,388 1134.8,389 1136.6,390 1138.3,391 1140.1,392 1141.9,393 1143.6,394 1145.4,395 1147.1,396 1148.9,397 1150.7,398 1152.4,399 1154.2,400 1156,401 1157.8,402 1159.6,403 1161.4,404.1 1163.2,405.1 1165.1,406.1 1166.9,407.2 1168.8,408.2 1170.7,409.3 1172.6,410.4 1174.5,411.4 1176.4,412.5 1178.4,413.6 1180.3,414.7 1182.3,415.8 1184.2,416.9 1186.2,418 1188.2,419.1 1190.1,420.2 1192.1,421.3 1194.1,422.4 1196.1,423.5 1198.1,424.7 1200.1,425.8 1202,426.9 1204,428 1206,429.1 1208,430.2 1210,431.3 1211.9,432.4 1213.9,433.5 1215.9,434.6 1217.8,435.7 1219.8,436.8 1221.7,437.9 1223.6,439 1225.5,440.1 1227.4,441.2 1229.3,442.2 1231.2,443.3 1233.1,444.3 1234.9,445.4 1236.7,446.4 1238.6,447.5 1240.3,448.5 1242.1,449.5 1243.9,450.5 1245.6,451.5 1247.3,452.5 1249,453.4 1250.7,454.4 1252.3,455.4 1254,456.3 1255.6,457.2 1257.1,458.1 1258.7,459 1260.2,459.9 1261.7,460.8 1263.1,461.6 1264.6,462.5 1266,463.3 1267.3,464.1 1268.6,464.9 1269.9,465.7 1271.2,466.4 1272.4,467.2 1273.6,467.9 1274.9,468.7 1276.2,469.5 1277.8,470.5 1279.5,471.6 1281.3,472.8 1283.1,474 1284.9,475.2 1286.5,476.4 1288.1,477.5 1289.6,478.6 1291.1,479.7 1292.7,480.8 1294.3,481.9 1296.1,483.1 1297.8,484.2 1299.5,485.4 1301.1,486.4 1302.6,487.3 1304,488.2 1305.4,489.1 1306.9,490 1308.4,490.9 1309.9,491.8 1311.5,492.7 1313.1,493.7 1314.7,494.6 1316.4,495.6 1318.1,496.6 1319.8,497.6 1321.5,498.7 1323.3,499.7 1325.1,500.7 1326.9,501.8 1328.7,502.9 1330.6,503.9 1332.5,505 1334.3,506.1 1336.2,507.2 1338.1,508.3 1340,509.4 1342,510.5 1343.9,511.6 1345.8,512.7 1347.7,513.8 1349.7,514.9 1351.6,516 1353.5,517.1 1355.4,518.3 1357.4,519.4 1359.3,520.5 1361.2,521.5 1363,522.6 1364.9,523.7 1366.8,524.8 1368.6,525.8 1370.4,526.9 1372.2,528 1374,529"/>
<path d="M1197.1,480.5 1199.1,481.1 1201,481.7 1203,482.3 1205,482.9 1207,483.4 1209,484 1211,484.6 1213,485.2 1215,485.8 1217,486.4 1219,487 1221.1,487.6 1223.1,488.3 1225.1,488.9 1227.2,489.5 1229.2,490.1 1231.3,490.7 1233.3,491.3 1235.4,491.9 1237.4,492.5 1239.5,493.1 1241.5,493.7 1243.5,494.3 1245.6,494.9 1247.6,495.5 1249.6,496.1 1251.7,496.7 1253.7,497.3 1255.7,497.9 1257.7,498.5 1259.7,499.1 1261.6,499.7 1263.6,500.3 1265.6,500.9 1267.5,501.5 1269.5,502.1 1271.4,502.6 1273.3,503.2 1275.2,503.8 1277.1,504.3 1279,504.9 1280.8,505.5 1282.6,506 1284.5,506.6 1286.3,507.1 1288.1,507.7 1289.8,508.2 1291.6,508.8 1293.3,509.3 1295,509.8 1296.7,510.4 1298.5,510.9 1300.4,511.5 1302.3,512.1 1304.4,512.8 1306.4,513.4 1308.5,514.1 1310.6,514.8 1312.6,515.4 1314.6,516.1 1316.5,516.7 1318.5,517.3 1320.4,518 1322.3,518.6 1324.1,519.2 1326,519.8 1327.8,520.4 1329.7,521.1 1331.5,521.7 1333.3,522.3 1335.1,522.9 1336.9,523.5 1338.7,524.1 1340.5,524.7 1342.4,525.3 1344.2,525.9 1346,526.5 1347.9,527.1 1349.7,527.8 1351.6,528.4 1353.5,529"/>
<path d="M1052.5,329.5 1054.5,329.7 1056.5,329.9 1058.4,330.1 1060.4,330.4 1062.3,330.6 1064.3,330.8 1066.2,331 1068.2,331.2 1070.1,331.4 1072.1,331.6 1074,331.8 1075.9,332 1077.9,332.2 1079.8,332.4 1081.7,332.6 1083.6,332.8 1085.5,333 1087.5,333.2 1089.4,333.4 1091.3,333.6 1093.2,333.8 1095.2,334 1097.1,334.2 1099,334.5 1101,334.7 1102.9,334.9 1104.9,335.1 1106.8,335.3 1108.8,335.5 1110.7,335.7 1112.7,335.9 1114.7,336.1 1116.7,336.4 1118.6,336.6 1120.6,336.8 1122.7,337 1124.7,337.3 1126.7,337.5 1128.7,337.7 1130.8,338 1132.9,338.2 1134.9,338.4 1137,338.7 1139.1,338.9 1141.2,339.2 1143.4,339.4 1145.5,339.7 1147.6,340 1149.7,340.2 1151.7,340.5 1153.7,340.7 1155.6,341 1157.5,341.2 1159.3,341.4 1161.2,341.7 1163,341.9 1164.9,342.2 1166.8,342.4 1168.8,342.7 1170.7,342.9 1172.6,343.2 1174.6,343.4 1176.6,343.7 1178.5,344 1180.5,344.2 1182.5,344.5 1184.5,344.8 1186.6,345 1188.6,345.3 1190.6,345.6 1192.7,345.9 1194.7,346.2 1196.8,346.4 1198.9,346.7 1200.9,347 1203,347.3 1205.1,347.6 1207.2,347.9 1209.3,348.2 1211.4,348.5 1213.5,348.8 1215.6,349.1 1217.7,349.4 1219.8,349.7 1221.9,350 1224,350.3 1226.1,350.6 1228.2,350.9 1230.3,351.2 1232.5,351.5 1234.6,351.8 1236.7,352.1 1238.8,352.4 1240.9,352.7 1243,353 1245,353.3 1247.1,353.6 1249.2,353.9 1251.3,354.2 1253.4,354.5 1255.4,354.8 1257.5,355.1 1259.5,355.3 1261.6,355.6 1263.6,355.9 1265.6,356.2 1267.7,356.5 1269.7,356.8 1271.7,357.1 1273.6,357.4 1275.6,357.7 1277.6,358 1279.5,358.2 1281.5,358.5 1283.4,358.8 1285.3,359.1 1287.2,359.3 1289.1,359.6 1291,359.9 1292.8,360.2 1294.6,360.4 1296.5,360.7 1298.3,360.9 1300.1,361.2 1302,361.5 1303.9,361.7 1306,362 1308.1,362.4 1310.3,362.7 1312.5,363 1314.7,363.3 1316.9,363.6 1319.1,363.9 1321.3,364.2 1323.4,364.5 1325.5,364.8 1327.6,365.1 1329.7,365.4 1331.8,365.7 1333.9,366 1335.9,366.3 1338,366.6 1340,366.9 1342,367.2 1344.1,367.5 1346.1,367.8 1348.1,368.1 1350,368.4 1352,368.7 1354,369 1356,369.3 1357.9,369.5 1359.9,369.8 1361.8,370.1 1363.8,370.4 1365.7,370.7 1367.6,371 1369.6,371.3 1371.5,371.5 1373.4,371.8 1375.4,372.1 1377.3,372.4 1379.2,372.7 1381.1,373 1383,373.3 1385,373.5 1386.9,373.8 1388.8,374.1 1390.8,374.4 1392.7,374.7 1394.7,375 1396.7,375.3 1398.8,375.6 1400.8,376 1402.9,376.3 1405,376.6 1407,376.9 1409.1,377.2 1411.1,377.5 1413.2,377.9 1415.2,378.2 1417.2,378.5 1419.2,378.8 1421.2,379.1 1423.2,379.4 1425.2,379.8 1427.2,380.1 1429.2,380.4 1431.2,380.7 1433.2,381 1435.2,381.3 1437.2,381.6 1439.2,382 1441.2,382.3 1443.1,382.6 1445.1,382.9 1447.1,383.2 1449.1,383.5 1451.1,383.8 1453.1,384.2 1455,384.5 1457,384.8 1459,385.1 1461,385.4 1463,385.7 1465,386.1 1467,386.4 1469,386.7 1471,387"/>
<path d="M1052.5,329.5 1054.5,329.7 1056.5,329.9 1058.4,330.1 1060.4,330.3 1062.3,330.5 1064.3,330.7 1066.2,330.9 1068.2,331.2 1070.1,331.4 1072.1,331.6 1074,331.8 1075.9,332 1077.8,332.2 1079.8,332.4 1081.7,332.6 1083.6,332.8 1085.5,333 1087.5,333.2 1089.4,333.4 1091.3,333.6 1093.2,333.8 1095.2,334 1097.1,334.2 1099,334.4 1101,334.6 1102.9,334.8 1104.8,335 1106.8,335.2 1108.7,335.4 1110.7,335.6 1112.7,335.8 1114.7,336 1116.6,336.2 1118.6,336.5 1120.6,336.7 1122.6,336.9 1124.7,337.1 1126.7,337.3 1128.7,337.5 1130.8,337.7 1132.8,338 1134.9,338.2 1137,338.4 1139.1,338.6 1141.2,338.8 1143.4,339.1 1145.5,339.3 1147.6,339.5 1149.7,339.8 1151.7,340 1153.7,340.2 1155.5,340.4 1157.4,340.6 1159.2,340.8 1161,341 1162.8,341.2 1164.6,341.4 1166.4,341.6 1168.3,341.8 1170.1,342 1171.9,342.2 1173.8,342.4 1175.6,342.6 1177.5,342.8 1179.3,343.1 1181.2,343.3 1183.1,343.5 1184.9,343.7 1186.8,343.9 1188.7,344.1 1190.6,344.4 1192.5,344.6 1194.4,344.8 1196.3,345 1198.2,345.2 1200.1,345.5 1202,345.7 1203.9,345.9 1205.9,346.1 1207.8,346.4 1209.8,346.6 1211.7,346.8 1213.7,347 1215.6,347.3 1217.6,347.5 1219.6,347.7 1221.5,348 1223.5,348.2 1225.5,348.4 1227.5,348.6 1229.5,348.9 1231.5,349.1 1233.5,349.3 1235.5,349.5 1237.6,349.8 1239.6,350 1241.6,350.2 1243.7,350.5 1245.7,350.7 1247.8,350.9 1249.8,351.1 1251.9,351.4 1254,351.6 1256.1,351.8 1258.2,352 1260.3,352.3 1262.4,352.5 1264.5,352.7 1266.6,352.9 1268.7,353.1 1270.8,353.4 1273,353.6 1275.1,353.8 1277.3,354 1279.4,354.2 1281.6,354.4 1283.8,354.6 1285.9,354.9 1288.1,355.1 1290.3,355.3 1292.5,355.5 1294.7,355.7 1296.9,355.9 1299.1,356.1 1301.2,356.3 1303.3,356.5 1305.3,356.6 1307.1,356.8 1309,357 1310.8,357.1 1312.6,357.3 1314.5,357.4 1316.4,357.6 1318.2,357.7 1320.1,357.9 1322.1,358 1324,358.2 1325.9,358.4 1327.9,358.5 1329.8,358.7 1331.8,358.8 1333.8,359 1335.8,359.1 1337.8,359.3 1339.9,359.4 1341.9,359.6 1344,359.7 1346,359.9 1348.1,360 1350.2,360.2 1352.3,360.3 1354.4,360.5 1356.5,360.6 1358.6,360.8 1360.7,360.9 1362.9,361 1365,361.2 1367.2,361.3 1369.3,361.5 1371.5,361.6 1373.7,361.8 1375.8,361.9 1378,362.1 1380.2,362.2 1382.4,362.4 1384.6,362.5 1386.8,362.6 1389,362.8 1391.2,362.9 1393.4,363.1 1395.7,363.2 1397.9,363.4 1400.1,363.5 1402.3,363.6 1404.5,363.8 1406.8,363.9 1409,364.1 1411.2,364.2 1413.5,364.3 1415.7,364.5 1417.9,364.6 1420.1,364.8 1422.4,364.9 1424.6,365 1426.8,365.2 1429,365.3 1431.2,365.5 1433.5,365.6 1435.7,365.7 1437.9,365.9 1440.1,366 1442.3,366.1 1444.5,366.3 1446.7,366.4 1448.9,366.6 1451,366.7 1453.2,366.8 1455.4,367 1457.5,367.1 1459.7,367.2 1461.8,367.4 1464,367.5 1466.1,367.6 1468.2,367.8 1470.4,367.9 1472.5,368 1474.6,368.2 1476.7,368.3 1478.7,368.4 1480.8,368.6 1482.9,368.7 1484.9,368.8 1486.9,369 1489,369.1 1491,369.2 1493,369.3 1495,369.5 1496.9,369.6 1498.9,369.7 1500.9,369.9 1502.8,370 1504.7,370.1 1506.6,370.2 1508.5,370.4 1510.4,370.5 1512.2,370.6 1514.1,370.8 1515.9,370.9 1517.7,371 1519.5,371.1 1521.3,371.3 1523.1,371.4 1524.8,371.5 1526.5,371.6 1528.2,371.8 1529.9,371.9 1531.6,372 1533.2,372.1 1534.9,372.3 1536.5,372.4 1538.1,372.5 1539.6,372.6 1541.2,372.8 1542.7,372.9 1544.2,373 1545.7,373.1 1547.2,373.3 1548.9,373.4 1550.8,373.6 1552.9,373.8 1555.2,374 1557.6,374.2 1560,374.4 1562.3,374.6 1564.6,374.9 1566.9,375.1 1569.1,375.3 1571.2,375.5 1573.4,375.7 1575.4,375.9 1577.5,376.2 1579.5,376.4 1581.5,376.6 1583.4,376.8 1585.3,377 1587.2,377.2 1589.1,377.4 1591,377.6 1592.8,377.8 1594.7,378.1 1596.5,378.3 1598.3,378.5 1600.1,378.7 1602,378.9 1603.8,379.1 1605.7,379.3 1607.5,379.5 1609.4,379.7 1611.3,379.9 1613.2,380.2 1615.1,380.4 1617,380.6 1619,380.8 1621,381"/>
<path d="M1052.5,329.5 1054.5,329.7 1056.5,329.9 1058.4,330.1 1060.4,330.3 1062.3,330.5 1064.3,330.7 1066.2,330.9 1068.2,331.1 1070.1,331.3 1072.1,331.5 1074,331.7 1075.9,331.9 1077.8,332.1 1079.8,332.2 1081.7,332.4 1083.6,332.6 1085.5,332.8 1087.5,333 1089.4,333.2 1091.3,333.4 1093.2,333.6 1095.2,333.8 1097.1,334 1099,334.2 1101,334.4 1102.9,334.6 1104.8,334.8 1106.8,335 1108.7,335.2 1110.7,335.4 1112.7,335.6 1114.7,335.8 1116.6,336 1118.6,336.2 1120.6,336.4 1122.6,336.6 1124.7,336.8 1126.7,337 1128.7,337.2 1130.8,337.4 1132.8,337.6 1134.9,337.8 1137,338 1139.1,338.2 1141.2,338.4 1143.4,338.6 1145.5,338.9 1147.6,339.1 1149.7,339.3 1151.7,339.5 1153.7,339.7 1155.5,339.9 1157.4,340 1159.2,340.2 1161,340.4 1162.7,340.6 1164.5,340.8 1166.3,341 1168.1,341.2 1170,341.4 1171.8,341.6 1173.6,341.8 1175.4,342 1177.2,342.2 1179,342.4 1180.9,342.6 1182.7,342.8 1184.5,343 1186.4,343.2 1188.2,343.4 1190.1,343.6 1191.9,343.8 1193.8,344 1195.6,344.2 1197.5,344.4 1199.4,344.6 1201.3,344.8 1203.1,345 1205,345.2 1206.9,345.5 1208.8,345.7 1210.7,345.9 1212.7,346.1 1214.6,346.3 1216.5,346.5 1218.5,346.7 1220.4,346.9 1222.3,347.1 1224.3,347.4 1226.3,347.6 1228.3,347.8 1230.2,348 1232.2,348.2 1234.2,348.4 1236.2,348.6 1238.3,348.8 1240.3,349 1242.3,349.2 1244.4,349.4 1246.4,349.6 1248.5,349.8 1250.5,350 1252.6,350.3 1254.7,350.5 1256.8,350.7 1258.9,350.9 1261.1,351 1263.2,351.2 1265.3,351.4 1267.5,351.6 1269.7,351.8 1271.8,352 1274,352.2 1276.2,352.4 1278.4,352.6 1280.7,352.8 1282.9,352.9 1285.2,353.1 1287.4,353.3 1289.7,353.5 1292,353.7 1294.3,353.8 1296.6,354 1298.9,354.2 1301.1,354.3 1303.1,354.5 1305.1,354.6 1306.9,354.7 1308.6,354.8 1310.3,354.9 1312,355 1313.7,355.2 1315.4,355.3 1317.1,355.4 1318.9,355.5 1320.7,355.6 1322.4,355.7 1324.2,355.8 1326,355.9 1327.8,356 1329.6,356.1 1331.5,356.2 1333.3,356.3 1335.2,356.4 1337,356.4 1338.9,356.5 1340.8,356.6 1342.7,356.7 1344.6,356.8 1346.5,356.9 1348.5,357 1350.4,357.1 1352.3,357.2 1354.3,357.2 1356.3,357.3 1358.2,357.4 1360.2,357.5 1362.2,357.6 1364.2,357.7 1366.2,357.7 1368.2,357.8 1370.2,357.9 1372.3,358 1374.3,358.1 1376.4,358.1 1378.4,358.2 1380.5,358.3 1382.5,358.4 1384.6,358.4 1386.7,358.5 1388.8,358.6 1390.9,358.7 1392.9,358.7 1395,358.8 1397.2,358.9 1399.3,359 1401.4,359 1403.5,359.1 1405.6,359.2 1407.8,359.2 1409.9,359.3 1412,359.4 1414.2,359.4 1416.3,359.5 1418.5,359.6 1420.6,359.6 1422.8,359.7 1425,359.8 1427.1,359.8 1429.3,359.9 1431.5,360 1433.6,360 1435.8,360.1 1438,360.2 1440.2,360.2 1442.4,360.3 1444.5,360.4 1446.7,360.4 1448.9,360.5 1451.1,360.6 1453.3,360.6 1455.5,360.7 1457.6,360.8 1459.8,360.8 1462,360.9 1464.2,360.9 1466.4,361 1468.6,361.1 1470.8,361.1 1473,361.2 1475.1,361.3 1477.3,361.3 1479.5,361.4 1481.7,361.5 1483.9,361.5 1486,361.6 1488.2,361.6 1490.4,361.7 1492.6,361.8 1494.7,361.8 1496.9,361.9 1499.1,362 1501.2,362 1503.4,362.1 1505.5,362.2 1507.7,362.2 1509.8,362.3 1512,362.4 1514.1,362.4 1516.2,362.5 1518.4,362.6 1520.5,362.6 1522.6,362.7 1524.7,362.8 1526.8,362.8 1528.9,362.9 1531,363 1533.1,363 1535.2,363.1 1537.3,363.2 1539.4,363.2 1541.4,363.3 1543.5,363.4 1545.5,363.5 1547.6,363.5 1549.6,363.6 1551.6,363.7 1553.7,363.8 1555.7,363.8 1557.7,363.9 1559.7,364 1561.7,364.1 1563.7,364.1 1565.6,364.2 1567.6,364.3 1569.6,364.4 1571.5,364.4 1573.5,364.5 1575.4,364.6 1577.3,364.7 1579.2,364.8 1581.1,364.9 1583,364.9 1584.9,365 1586.7,365.1 1588.6,365.2 1590.4,365.3 1592.3,365.4 1594.1,365.5 1595.9,365.5 1597.7,365.6 1599.5,365.7 1601.3,365.8 1603,365.9 1604.8,366 1606.5,366.1 1608.3,366.2 1610,366.3 1611.7,366.4 1613.4,366.5 1615.1,366.6 1616.8,366.7 1618.6,366.8 1620.5,366.9 1622.6,367.1 1624.8,367.2 1627,367.4 1629.3,367.5 1631.6,367.7 1633.9,367.8 1636.1,368 1638.4,368.2 1640.6,368.3 1642.8,368.5 1645,368.6 1647.2,368.8 1649.3,369 1651.5,369.1 1653.6,369.3 1655.7,369.5 1657.8,369.7 1659.9,369.8 1661.9,370 1664,370.2 1666.1,370.3 1668.1,370.5 1670.1,370.7 1672.1,370.9 1674.1,371 1676.1,371.2 1678.1,371.4 1680.1,371.6 1682,371.8 1684,371.9 1685.9,372.1 1687.9,372.3 1689.8,372.5 1691.7,372.7 1693.7,372.9 1695.6,373 1697.5,373.2 1699.4,373.4 1701.3,373.6 1703.2,373.8 1705.1,374 1707,374.1 1708.8,374.3 1710.7,374.5 1712.6,374.7 1714.5,374.9 1716.4,375.1 1718.2,375.2 1720.1,375.4 1722,375.6 1723.9,375.8 1725.7,376 1727.6,376.2 1729.5,376.4 1731.4,376.5 1733.3,376.7 1735.1,376.9 1737,377.1 1738.9,377.3 1740.8,377.5 1742.7,377.7 1744.6,377.8 1746.5,378 1748.5,378.2 1750.4,378.4 1752.3,378.6 1754.2,378.7 1756.2,378.9 1758.1,379.1 1760.1,379.3 1762.1,379.5 1764,379.6 1766,379.8 1768,380"/>
<path d="M1504.1,405.5L1403.4,455"/>
<path d="M1525.4,405.5 1525.2,407.5 1524.9,409.6 1524.7,411.6 1524.4,413.7 1524.2,415.7 1523.9,417.8 1523.7,419.8 1523.5,421.9 1523.4,424 1523.2,426.1 1523.2,428.1 1523.2,430.2 1523.2,432.2 1523.2,434.3 1523.3,436.3 1523.4,438.4 1523.6,440.4 1523.7,442.5 1523.9,444.6 1524.1,446.7 1524.2,448.8 1524.4,450.8 1524.5,452.9 1524.7,455"/>
<path d="M1539.8,455L1539.8,405.5"/>
<path d="M1561.3,405.5 1563,406.7 1564.8,407.8 1566.6,408.9 1568.4,410 1570.2,411.1 1572,412.2 1573.9,413.3 1575.8,414.4 1577.6,415.5 1579.5,416.6 1581.4,417.6 1583.3,418.7 1585.1,419.8 1587,420.9 1588.8,422 1590.6,423.1 1592.3,424.3 1594.1,425.4 1595.7,426.6 1597.4,427.8 1599,429 1600.5,430.3 1602,431.6 1603.4,432.9 1604.7,434.3 1606,435.7 1607.2,437.2 1608.3,438.7 1609.4,440.4 1610.5,442 1611.4,443.8 1612.3,445.5 1613.2,447.3 1614,449.2 1614.7,451.1 1615.4,453 1616,454.9 1616.6,456.9 1617.1,458.9 1617.6,460.9 1618.1,462.9 1618.5,464.9 1618.9,467 1619.3,469.1 1619.6,471.1 1619.9,473.2 1620.2,475.3 1620.4,477.4 1620.6,479.5 1620.9,481.5 1621.1,483.6 1621.3,485.6 1621.4,487.6 1621.6,489.7 1621.7,491.6 1621.7,493.6 1621.8,495.7 1621.8,497.7 1621.8,499.7 1621.7,501.7 1621.6,503.8 1621.5,505.8 1621.4,507.9 1621.3,510 1621.1,512 1620.9,514.1 1620.7,516.2 1620.4,518.3 1620.2,520.4 1619.9,522.5 1619.7,524.6 1619.4,526.7 1619.1,528.8 1618.7,530.9 1618.4,533 1618.1,535.1 1617.7,537.2 1617.4,539.2 1617,541.3 1616.6,543.3 1616.3,545.2 1615.9,547.2 1615.4,549.1 1615,551 1614.6,553 1614.1,554.9 1613.6,556.9 1613.1,558.8 1612.6,560.8 1612,562.7 1611.5,564.7 1610.9,566.6 1610.4,568.6 1609.8,570.6 1609.2,572.5 1608.6,574.5 1608,576.5 1607.4,578.4 1606.8,580.4 1606.2,582.4 1605.6,584.3 1605,586.3 1604.4,588.3 1603.8,590.3 1603.2,592.2 1602.6,594.2 1602.1,596.2 1601.5,598.1 1600.9,600.1 1600.4,602 1599.8,604"/>
<path d="M1681.2,405.5 1680.7,407.4 1680.2,409.4 1679.6,411.3 1679.1,413.2 1678.6,415.2 1678.1,417.1 1677.6,419 1677.1,421 1676.6,422.9 1676.1,424.8 1675.6,426.7 1675.2,428.7 1674.7,430.6 1674.2,432.5 1673.7,434.5 1673.2,436.4 1672.8,438.3 1672.3,440.2 1671.8,442.2 1671.3,444.1 1670.8,446 1670.4,447.9 1669.9,449.9 1669.4,451.8 1668.9,453.7 1668.4,455.7 1667.9,457.6 1667.4,459.5 1666.9,461.5 1666.3,463.4 1665.8,465.3 1665.3,467.3 1664.7,469.2 1664.2,471.1 1663.6,473.1 1663.1,475 1662.5,477 1661.9,478.9 1661.3,480.9 1660.7,482.8 1660.1,484.8 1659.5,486.7 1658.9,488.7 1658.2,490.6 1657.5,492.6 1656.9,494.6 1656.2,496.5 1655.5,498.4 1654.8,500.3 1654.2,502.1 1653.5,504 1652.8,505.8 1652.1,507.6 1651.4,509.4 1650.6,511.3 1649.9,513.1 1649.2,514.9 1648.4,516.8 1647.6,518.6 1646.9,520.5 1646.1,522.3 1645.3,524.1 1644.5,526 1643.7,527.8 1642.9,529.7 1642.1,531.5 1641.3,533.4 1640.4,535.2 1639.6,537.1 1638.8,538.9 1637.9,540.8 1637.1,542.6 1636.2,544.5 1635.3,546.4 1634.5,548.2 1633.6,550.1 1632.7,551.9 1631.9,553.8 1631,555.7 1630.1,557.5 1629.2,559.4 1628.4,561.2 1627.5,563.1 1626.6,565 1625.7,566.8 1624.8,568.7 1624,570.6 1623.1,572.4 1622.2,574.3 1621.3,576.1 1620.4,578 1619.5,579.9 1618.7,581.7 1617.8,583.6 1616.9,585.4 1616,587.3 1615.2,589.2 1614.3,591 1613.5,592.9 1612.6,594.7 1611.8,596.6 1610.9,598.4 1610.1,600.3 1609.2,602.1 1608.4,604"/>
<path d="M1702.2,405.5 1703.9,406.6 1705.6,407.7 1707.2,408.9 1708.9,410 1710.6,411.1 1712.3,412.2 1713.9,413.3 1715.6,414.4 1717.3,415.5 1719,416.6 1720.7,417.7 1722.4,418.9 1724.1,420.1 1725.8,421.3 1727.5,422.5 1729.3,423.7 1730.9,424.9 1732.6,426.1 1734.1,427.3 1735.7,428.4 1737.3,429.6 1738.8,430.8 1740.4,432 1742,433.2 1743.6,434.5 1745.2,435.7 1746.9,437 1748.5,438.3 1750.1,439.5 1751.7,440.8 1753.4,442.1 1755,443.4 1756.7,444.7 1758.3,446 1759.9,447.3 1761.6,448.6 1763.2,449.9 1764.8,451.2 1766.5,452.5 1768.1,453.7 1769.7,455"/>
<path d="M1722.6,405.5L1891.2,455"/>
<path d="M1908.3,455L1743.4,405.5"/>
<path d="M1899.8,404.5 1901.8,405 1903.8,405.5 1905.8,406 1907.8,406.5 1909.9,406.9 1911.9,407.4 1914,407.9 1916.1,408.3 1918.2,408.8 1920.2,409.3 1922.3,409.7 1924.4,410.2 1926.5,410.6 1928.6,411.1 1930.7,411.5 1932.8,412 1934.9,412.4 1937,412.9 1939.1,413.3 1941.2,413.8 1943.2,414.3 1945.3,414.7 1947.3,415.2 1949.3,415.7 1951.3,416.2 1953.3,416.7 1955.3,417.2 1957.2,417.7 1959.2,418.3 1961.1,418.8 1963,419.4 1964.8,419.9 1966.6,420.5 1968.4,421.1 1970.2,421.7 1971.9,422.3 1973.7,423 1975.4,423.7 1977.1,424.4 1978.9,425.2 1980.8,426 1982.7,427 1984.6,427.9 1986.6,428.9 1988.5,430 1990.4,431 1992.3,432.1 1994.1,433.1 1995.9,434.2 1997.7,435.4 1999.4,436.5 2001.1,437.6 2002.8,438.8 2004.4,439.9 2006,441.1 2007.5,442.3 2009,443.5 2010.5,444.7 2011.9,445.9 2013.3,447.1 2014.6,448.3 2016,449.6 2017.5,451 2018.9,452.5 2020.5,454.1 2022.1,455.7 2023.6,457.4 2025.1,459.1 2026.5,460.9 2027.7,462.6 2028.9,464.3 2029.9,466.1 2030.8,467.9 2031.5,469.7 2032,471.4 2032.3,473.3 2032.4,475.1 2032.3,477 2032,478.9 2031.6,480.8 2031,482.8 2030.2,484.7 2029.3,486.6 2028.3,488.5 2027.2,490.4 2026.1,492.2 2024.9,493.9 2023.6,495.4 2022.4,496.9 2021.1,498.3 2019.7,499.6 2018.3,500.9 2016.8,502.2 2015.3,503.4 2013.6,504.6 2011.9,505.7 2010.2,506.8 2008.4,508 2006.5,509 2004.6,510.1 2002.7,511.1 2000.8,512.1 1998.8,513.1 1996.8,514 1995,514.8 1993.2,515.6 1991.4,516.3 1989.6,517 1987.9,517.6 1986.1,518.2 1984.3,518.8 1982.4,519.3 1980.5,519.8 1978.6,520.4 1976.6,520.9 1974.6,521.3 1972.6,521.8 1970.6,522.3 1968.6,522.7 1966.5,523.2 1964.5,523.6 1962.4,524.1 1960.4,524.5 1958.3,524.9 1956.2,525.3 1954.2,525.8 1952.1,526.2 1950,526.7 1948,527.1 1946,527.6 1944,528 1942,528.5 1940,529"/>
<path d="M889.5,553 891.5,553.3 893.5,553.6 895.5,553.9 897.5,554.2 899.5,554.5 901.5,554.8 903.5,555.1 905.5,555.4 907.5,555.7 909.5,556 911.5,556.3 913.5,556.6 915.5,556.9 917.5,557.2 919.5,557.5 921.5,557.8 923.5,558.1 925.5,558.4 927.5,558.8 929.5,559.1 931.5,559.4 933.5,559.7 935.5,560 937.6,560.3 939.6,560.6 941.6,560.9 943.6,561.2 945.7,561.4 947.7,561.7 949.7,562 951.8,562.3 953.8,562.6 955.9,562.9 957.9,563.2 959.9,563.5 961.9,563.8 963.8,564 965.8,564.3 967.7,564.6 969.6,564.8 971.4,565.1 973.3,565.4 975.2,565.6 977,565.9 978.9,566.2 980.7,566.4 982.6,566.7 984.4,566.9 986.2,567.2 988.1,567.5 990,567.7 991.8,568 993.7,568.2 995.6,568.5 997.5,568.7 999.4,569 1001.4,569.3 1003.3,569.5 1005.3,569.8 1007.3,570 1009.3,570.3 1011.4,570.5 1013.4,570.8 1015.5,571.1 1017.7,571.3 1019.9,571.6 1022.1,571.9 1024.3,572.1 1026.6,572.4 1028.9,572.7 1031.3,572.9 1033.6,573.2 1035.9,573.4 1037.9,573.7 1039.8,573.9 1041.5,574.1 1043.1,574.2 1044.7,574.4 1046.3,574.6 1047.8,574.7 1049.4,574.9 1051,575.1 1052.7,575.2 1054.3,575.4 1055.9,575.6 1057.6,575.8 1059.3,575.9 1061,576.1 1062.7,576.3 1064.4,576.4 1066.1,576.6 1067.9,576.8 1069.7,577 1071.4,577.1 1073.2,577.3 1075,577.5 1076.8,577.7 1078.6,577.8 1080.5,578 1082.3,578.2 1084.2,578.4 1086,578.5 1087.9,578.7 1089.8,578.9 1091.7,579.1 1093.6,579.2 1095.5,579.4 1097.5,579.6 1099.4,579.8 1101.3,580 1103.3,580.1 1105.3,580.3 1107.3,580.5 1109.2,580.7 1111.2,580.9 1113.2,581 1115.2,581.2 1117.3,581.4 1119.3,581.6 1121.3,581.8 1123.4,582 1125.4,582.1 1127.5,582.3 1129.5,582.5 1131.6,582.7 1133.7,582.9 1135.7,583.1 1137.8,583.2 1139.9,583.4 1142,583.6 1144.1,583.8 1146.2,584 1148.3,584.1 1150.5,584.3 1152.6,584.5 1154.7,584.7 1156.8,584.9 1159,585.1 1161.1,585.2 1163.2,585.4 1165.4,585.6 1167.5,585.8 1169.7,586 1171.8,586.2 1174,586.3 1176.2,586.5 1178.3,586.7 1180.5,586.9 1182.6,587.1 1184.8,587.3 1187,587.4 1189.1,587.6 1191.3,587.8 1193.5,588 1195.7,588.2 1197.8,588.3 1200,588.5 1202.2,588.7 1204.3,588.9 1206.5,589.1 1208.7,589.2 1210.8,589.4 1213,589.6 1215.2,589.8 1217.3,589.9 1219.5,590.1 1221.7,590.3 1223.8,590.5 1226,590.6 1228.1,590.8 1230.3,591 1232.4,591.2 1234.6,591.3 1236.7,591.5 1238.9,591.7 1241,591.9 1243.1,592 1245.2,592.2 1247.4,592.4 1249.5,592.6 1251.6,592.7 1253.7,592.9 1255.8,593.1 1257.9,593.2 1259.9,593.4 1261.9,593.5 1263.8,593.7 1265.8,593.9 1267.7,594 1269.6,594.2 1271.5,594.3 1273.5,594.5 1275.4,594.6 1277.3,594.8 1279.3,594.9 1281.2,595.1 1283.2,595.2 1285.1,595.4 1287.1,595.5 1289,595.7 1291,595.8 1292.9,596 1294.9,596.1 1296.9,596.3 1298.8,596.4 1300.8,596.6 1302.8,596.7 1304.7,596.9 1306.7,597 1308.7,597.2 1310.7,597.3 1312.6,597.5 1314.6,597.6 1316.6,597.8 1318.6,597.9 1320.6,598 1322.6,598.2 1324.5,598.3 1326.5,598.5 1328.5,598.6 1330.5,598.8 1332.5,598.9 1334.5,599.1 1336.5,599.2 1338.5,599.4 1340.5,599.5 1342.5,599.6 1344.5,599.8 1346.6,599.9 1348.6,600.1 1350.6,600.2 1352.6,600.4 1354.6,600.5 1356.6,600.7 1358.6,600.8 1360.7,600.9 1362.7,601.1 1364.7,601.2 1366.7,601.4 1368.7,601.5 1370.8,601.7 1372.8,601.8 1374.8,601.9 1376.8,602.1 1378.9,602.2 1380.9,602.4 1382.9,602.5 1385,602.7 1387,602.8 1389,602.9 1391.1,603.1 1393.1,603.2 1395.1,603.4 1397.2,603.5 1399.2,603.7 1401.2,603.8 1403.3,603.9 1405.3,604.1 1407.3,604.2 1409.4,604.4 1411.4,604.5 1413.5,604.6 1415.5,604.8 1417.5,604.9 1419.6,605.1 1421.6,605.2 1423.7,605.4 1425.7,605.5 1427.7,605.6 1429.8,605.8 1431.8,605.9 1433.9,606.1 1435.9,606.2 1437.9,606.3 1440,606.5 1442,606.6 1444.1,606.8 1446.1,606.9 1448.1,607 1450.2,607.2 1452.2,607.3 1454.3,607.5 1456.3,607.6 1458.4,607.8 1460.4,607.9 1462.4,608 1464.5,608.2 1466.5,608.3 1468.5,608.5 1470.6,608.6 1472.6,608.7 1474.7,608.9 1476.7,609 1478.7,609.2 1480.8,609.3 1482.8,609.5 1484.8,609.6 1486.9,609.7 1488.9,609.9 1490.9,610 1493,610.2 1495,610.3 1497,610.4 1499,610.6 1501.1,610.7 1503.1,610.9 1505.1,611 1507.1,611.2 1509.2,611.3 1511.2,611.4 1513.2,611.6 1515.2,611.7 1517.2,611.9 1519.2,612 1521.3,612.2 1523.3,612.3 1525.3,612.5 1527.3,612.6"/>
<path d="M889.5,555 891.5,555.4 893.4,555.9 895.4,556.3 897.3,556.8 899.3,557.2 901.2,557.7 903.1,558.1 905.1,558.6 907,559 909,559.4 910.9,559.9 912.8,560.3 914.7,560.8 916.7,561.2 918.6,561.7 920.5,562.1 922.4,562.5 924.4,563 926.3,563.4 928.2,563.9 930.1,564.3 932,564.8 934,565.2 935.9,565.6 937.8,566.1 939.7,566.5 941.6,567 943.5,567.4 945.5,567.9 947.4,568.3 949.3,568.7 951.2,569.2 953.1,569.6 955.1,570.1 957,570.5 958.9,570.9 960.8,571.4 962.8,571.8 964.7,572.3 966.6,572.7 968.5,573.2 970.5,573.6 972.4,574.1 974.4,574.5 976.3,574.9 978.2,575.4 980.2,575.8 982.1,576.3 984.1,576.7 986.1,577.2 988,577.6 990,578.1 992,578.5 993.9,579 995.9,579.4 997.9,579.8 999.9,580.3 1001.9,580.7 1003.9,581.2 1005.9,581.6 1007.9,582.1 1009.9,582.5 1011.9,583 1013.9,583.4 1015.9,583.9 1018,584.3 1020,584.8 1022,585.3 1024.1,585.7 1026.1,586.2 1028.2,586.6 1030.3,587.1 1032.3,587.5 1034.4,588 1036.4,588.4 1038.4,588.9 1040.4,589.3 1042.2,589.7 1044.1,590.1 1045.9,590.5 1047.8,590.9 1049.6,591.3 1051.5,591.7 1053.4,592.1 1055.2,592.5 1057.1,592.9 1059,593.3 1060.8,593.7 1062.7,594.1 1064.6,594.5 1066.5,594.9 1068.4,595.3 1070.2,595.7 1072.1,596.1 1074,596.5 1075.9,596.9 1077.8,597.3 1079.7,597.7 1081.7,598.1 1083.6,598.5 1085.5,598.9 1087.4,599.3 1089.3,599.7 1091.3,600.1 1093.2,600.5 1095.1,600.9 1097.1,601.3 1099,601.7 1100.9,602.1 1102.9,602.5 1104.8,602.9 1106.8,603.3 1108.7,603.7 1110.7,604.1 1112.6,604.5 1114.6,604.9 1116.6,605.3 1118.5,605.7 1120.5,606.1 1122.5,606.5 1124.4,606.9 1126.4,607.3 1128.4,607.7 1130.3,608.1 1132.3,608.6 1134.3,609 1136.3,609.4 1138.3,609.8 1140.3,610.2 1142.3,610.6 1144.2,611 1146.2,611.4 1148.2,611.8 1150.2,612.2 1152.2,612.6 1154.2,613.1 1156.2,613.5 1158.2,613.9 1160.2,614.3 1162.2,614.7 1164.2,615.1 1166.2,615.5 1168.3,615.9 1170.3,616.4 1172.3,616.8 1174.3,617.2 1176.3,617.6 1178.3,618 1180.3,618.4 1182.4,618.9 1184.4,619.3 1186.4,619.7 1188.4,620.1 1190.4,620.5 1192.5,621 1194.5,621.4 1196.5,621.8 1198.5,622.2 1200.5,622.7 1202.6,623.1 1204.6,623.5 1206.6,623.9 1208.6,624.4 1210.7,624.8 1212.7,625.2 1214.7,625.7 1216.8,626.1 1218.8,626.5 1220.8,627 1222.8,627.4 1224.9,627.8 1226.9,628.3 1228.9,628.7 1230.9,629.1 1232.9,629.6 1234.9,630 1236.9,630.4 1238.8,630.8 1240.7,631.2 1242.6,631.7 1244.5,632.1 1246.5,632.5 1248.4,632.9 1250.3,633.3 1252.2,633.7 1254.1,634.2 1256,634.6 1258,635 1259.9,635.4 1261.8,635.8 1263.8,636.3 1265.7,636.7 1267.6,637.1 1269.6,637.5 1271.5,638 1273.4,638.4 1275.4,638.8 1277.3,639.3 1279.3,639.7 1281.2,640.1 1283.2,640.5 1285.1,641 1287.1,641.4 1289,641.8 1291,642.3 1292.9,642.7 1294.9,643.1 1296.8,643.6 1298.8,644 1300.7,644.5 1302.7,644.9 1304.7,645.3 1306.6,645.8 1308.6,646.2 1310.6,646.6 1312.5,647.1 1314.5,647.5 1316.5,648 1318.4,648.4 1320.4,648.8 1322.4,649.3 1324.4,649.7 1326.3,650.2 1328.3,650.6 1330.3,651.1 1332.3,651.5 1334.2,651.9 1336.2,652.4 1338.2,652.8 1340.2,653.3 1342.1,653.7 1344.1,654.2 1346.1,654.6 1348.1,655.1 1350.1,655.5 1352,655.9 1354,656.4 1356,656.8 1358,657.3 1360,657.7 1362,658.2 1363.9,658.6 1365.9,659.1 1367.9,659.5 1369.9,660 1371.9,660.4 1373.9,660.9 1375.9,661.3 1377.8,661.8 1379.8,662.2 1381.8,662.7 1383.8,663.1 1385.8,663.5 1387.8,664 1389.8,664.4 1391.7,664.9 1393.7,665.3 1395.7,665.8 1397.7,666.2 1399.7,666.7 1401.7,667.1 1403.7,667.6 1405.6,668 1407.6,668.5 1409.6,668.9 1411.6,669.4 1413.6,669.8 1415.6,670.3 1417.5,670.7 1419.5,671.1 1421.5,671.6 1423.5,672 1425.5,672.5 1427.4,672.9 1429.4,673.4 1431.4,673.8 1433.4,674.3 1435.3,674.7 1437.3,675.1 1439.3,675.6 1441.3,676 1443.2,676.5 1445.2,676.9 1447.2,677.4 1449.2,677.8 1451.1,678.2 1453.1,678.7 1455.1,679.1 1457,679.6 1459,680"/>
<path d="M1432.7,555.1 1434.6,555.8 1436.5,556.5 1438.3,557.1 1440.2,557.8 1442,558.4 1443.8,559.1 1445.6,559.7 1447.4,560.4 1449.3,561 1451.1,561.7 1453,562.4 1454.8,563.1 1456.7,563.8 1458.7,564.5 1460.7,565.2 1462.7,566 1464.8,566.7 1466.9,567.5 1468.9,568.3 1470.8,569 1472.6,569.7 1474.3,570.4 1476,571 1477.6,571.7 1479.2,572.3 1480.9,573 1482.6,573.6 1484.3,574.3 1486,575 1487.7,575.7 1489.5,576.4 1491.3,577.1 1493.1,577.9 1495,578.6 1496.8,579.3 1498.7,580.1 1500.5,580.9 1502.4,581.6 1504.3,582.4 1506.3,583.2 1508.2,584 1510.1,584.8 1512.1,585.6 1514,586.4 1516,587.2 1518,588 1519.9,588.8 1521.9,589.6 1523.9,590.4 1525.9,591.3 1527.9,592.1 1529.8,592.9 1531.8,593.7 1533.8,594.5 1535.8,595.3 1537.7,596.1 1539.7,596.9 1541.7,597.7 1543.6,598.5 1545.6,599.3 1547.5,600.1 1549.4,600.9 1551.3,601.7 1553.2,602.5 1555.1,603.2 1557,604"/>
<path d="M1409,555.5L1499.6,680"/>
<path d="M1802.5,555 1800.5,555.4 1798.6,555.8 1796.6,556.1 1794.7,556.5 1792.8,556.9 1790.8,557.3 1788.9,557.6 1787,558 1785,558.4 1783.1,558.8 1781.1,559.1 1779.2,559.5 1777.2,559.9 1775.2,560.3 1773.2,560.7 1771.2,561.2 1769.2,561.6 1767.1,562 1765.1,562.5 1763.2,562.9 1761.2,563.4 1759.3,563.8 1757.4,564.3 1755.4,564.7 1753.5,565.2 1751.5,565.6 1749.5,566.1 1747.5,566.6 1745.5,567.1 1743.5,567.6 1741.4,568.1 1739.4,568.6 1737.3,569.1 1735.3,569.6 1733.3,570.2 1731.2,570.7 1729.2,571.2 1727.1,571.7 1725.1,572.3 1723.1,572.8 1721,573.4 1719,573.9 1717,574.5 1715,575 1713.1,575.5 1711.1,576.1 1709.1,576.6 1707.1,577.2 1705.1,577.7 1703.2,578.2 1701.1,578.8 1699.1,579.3 1697.1,579.9 1695.1,580.5 1693.1,581 1691.1,581.6 1689.1,582.2 1687.2,582.8 1685.2,583.3 1683.2,583.9 1681.3,584.5 1679.4,585.1 1677.5,585.7 1675.6,586.3 1673.8,586.9 1672,587.5 1670.2,588.1 1668.4,588.8 1666.6,589.4 1664.7,590.1 1662.8,590.9 1660.9,591.7 1658.9,592.5 1656.9,593.4 1655,594.3 1653.2,595.1 1651.3,596 1649.5,596.9 1647.7,597.8 1645.9,598.7 1644.1,599.6 1642.3,600.5 1640.5,601.3 1638.7,602.2 1636.8,603.1 1635,604"/>
<path d="M1822.5,555 1820.6,555.9 1818.8,556.8 1816.9,557.7 1815,558.6 1813.2,559.4 1811.3,560.3 1809.4,561.2 1807.6,562.1 1805.7,563 1803.8,563.9 1801.9,564.8 1800,565.7 1798.2,566.6 1796.3,567.5 1794.4,568.4 1792.6,569.2 1790.7,570.1 1788.8,571 1787,571.9 1785.1,572.8 1783.2,573.7 1781.4,574.6 1779.5,575.5 1777.7,576.3 1775.9,577.2 1774,578.1 1772.2,579 1770.4,579.9 1768.6,580.8 1766.8,581.6 1764.9,582.5 1763.1,583.5 1761.2,584.4 1759.3,585.3 1757.4,586.3 1755.5,587.2 1753.7,588.1 1751.8,589.1 1749.9,590 1748.1,591 1746.2,591.9 1744.4,592.8 1742.6,593.8 1740.7,594.7 1738.9,595.7 1737.1,596.6 1735.2,597.5 1733.4,598.4 1731.6,599.4 1729.7,600.3 1727.9,601.2 1726.1,602.1 1724.2,603 1722.4,603.9 1720.6,604.8 1718.7,605.7 1716.9,606.6 1715,607.5 1713.2,608.4 1711.3,609.2 1709.5,610.1 1707.6,611 1705.8,611.8 1703.9,612.7 1702.1,613.5 1700.2,614.4 1698.4,615.2 1696.5,616.1 1694.7,616.9 1692.8,617.8 1691,618.6 1689.1,619.4 1687.3,620.3 1685.4,621.1 1683.6,621.9 1681.7,622.8 1679.9,623.6 1678,624.4 1676.1,625.2 1674.3,626 1672.4,626.8 1670.6,627.6 1668.7,628.4 1666.8,629.2 1665,630 1663.1,630.8 1661.1,631.6 1659.2,632.4 1657.3,633.3 1655.3,634.1 1653.3,634.9 1651.4,635.7 1649.4,636.5 1647.5,637.3 1645.5,638.1 1643.5,638.9 1641.6,639.7 1639.6,640.5 1637.7,641.3 1635.7,642.1 1633.8,642.8 1631.8,643.6 1629.9,644.3 1628,645.1 1626.1,645.8 1624.2,646.5 1622.3,647.3 1620.5,648 1618.6,648.6 1616.7,649.3 1614.8,650 1612.8,650.7 1610.8,651.4 1608.8,652.1 1606.7,652.8 1604.7,653.4 1602.7,654.1 1600.7,654.7 1598.7,655.3 1596.7,655.9 1594.8,656.5 1592.8,657.1 1590.9,657.7 1589,658.4 1587,659 1585.1,659.7 1583.2,660.3 1581.3,661 1579.4,661.8 1577.5,662.6 1575.6,663.4 1573.7,664.2 1571.8,665.1 1569.9,666 1568,666.9 1566.1,667.8 1564.3,668.8 1562.4,669.7 1560.6,670.7 1558.7,671.7 1556.9,672.7 1555.1,673.7 1553.2,674.6 1551.4,675.6 1549.5,676.6 1547.7,677.6 1545.9,678.5 1544,679.5"/>
<path d="M1576.4,629.7L1525.2,680"/>
<path d="M2488.8,405.5L2683.7,455"/>
<path d="M2456.6,405.8 2458.3,406.9 2460,407.9 2461.8,409 2463.5,410.1 2465.2,411.1 2466.9,412.2 2468.5,413.3 2470.2,414.4 2471.9,415.5 2473.6,416.5 2475.3,417.6 2476.9,418.7 2478.6,419.8 2480.3,420.9 2481.9,422 2483.6,423.1 2485.3,424.1 2487,425.2 2488.7,426.3 2490.4,427.4 2492.1,428.4 2493.8,429.5 2495.5,430.6 2497.3,431.6 2499,432.7 2500.8,433.7 2502.6,434.8 2504.3,435.8 2506.2,436.8 2508,437.9 2509.8,438.9 2511.7,439.9 2513.6,440.9 2515.4,441.9 2517.3,442.9 2519.1,443.8 2520.9,444.7 2522.7,445.6 2524.4,446.4 2526.2,447.2 2527.9,448.1 2529.7,448.9 2531.4,449.7 2533.2,450.6 2535,451.4 2536.9,452.2 2538.7,453 2540.5,453.8 2542.4,454.7 2544.2,455.5 2546.1,456.3 2548,457.1 2549.9,457.9 2551.8,458.7 2553.7,459.5 2555.6,460.3 2557.5,461.1 2559.4,461.8 2561.3,462.6 2563.3,463.4 2565.2,464.2 2567.2,464.9 2569.1,465.7 2571.1,466.4 2573,467.2 2575,467.9 2577,468.7 2578.9,469.4 2580.9,470.2 2582.8,470.9 2584.8,471.6 2586.8,472.3 2588.7,473 2590.7,473.7 2592.7,474.4 2594.6,475.1 2596.6,475.8 2598.5,476.5 2600.5,477.1 2602.4,477.8 2604.4,478.4 2606.3,479.1 2608.3,479.7 2610.2,480.4 2612.1,481 2614.1,481.6 2616,482.2 2618,482.8 2619.9,483.4 2621.9,484 2623.9,484.6 2625.8,485.1 2627.8,485.7 2629.7,486.2 2631.7,486.8 2633.7,487.3 2635.7,487.8 2637.6,488.3 2639.6,488.8 2641.6,489.3 2643.5,489.8 2645.5,490.3 2647.5,490.8 2649.5,491.3 2651.4,491.8 2653.4,492.2 2655.4,492.7 2657.4,493.2 2659.4,493.6 2661.3,494.1 2663.3,494.5 2665.3,495 2667.3,495.4 2669.3,495.9 2671.2,496.3 2673.2,496.8 2675.2,497.2 2677.2,497.7 2679.2,498.1 2681.2,498.6 2683.1,499 2685.1,499.5 2687.1,500 2689.1,500.4 2691.1,500.9 2693.1,501.4 2695.1,501.8 2697.1,502.3 2699,502.8 2701,503.3 2703,503.8 2705,504.3 2706.9,504.8 2708.9,505.3 2710.8,505.8 2712.7,506.3 2714.7,506.8 2716.6,507.3 2718.5,507.8 2720.5,508.3 2722.4,508.8 2724.3,509.3 2726.3,509.8 2728.2,510.3 2730.2,510.8 2732.1,511.3 2734,511.8 2736,512.3 2737.9,512.8 2739.9,513.3 2741.8,513.8 2743.7,514.3 2745.7,514.8 2747.6,515.3 2749.6,515.8 2751.5,516.3 2753.5,516.8 2755.4,517.3 2757.3,517.8 2759.3,518.4 2761.2,518.9 2763.2,519.4 2765.1,519.9 2767.1,520.4 2769,520.9 2771,521.4 2772.9,521.9 2774.8,522.4 2776.8,522.9 2778.7,523.4 2780.7,523.9 2782.6,524.4 2784.6,525 2786.5,525.5 2788.4,526 2790.4,526.5 2792.3,527 2794.3,527.5 2796.2,528 2798.2,528.5 2800.1,529"/>
<path d="M2732,405.5L2732,455"/>
<path d="M2786.5,405.5 2788.3,406.4 2790.1,407.2 2791.9,408.1 2793.7,408.9 2795.6,409.7 2797.4,410.5 2799.2,411.3 2801.1,412.1 2802.9,412.9 2804.7,413.7 2806.6,414.5 2808.4,415.3 2810.2,416.1 2812,416.9 2813.8,417.8 2815.6,418.7 2817.4,419.6 2819.2,420.6 2820.9,421.6 2822.6,422.6 2824.4,423.7 2826,424.8 2827.7,425.9 2829.3,427.1 2830.9,428.3 2832.5,429.6 2834,430.8 2835.6,432.1 2837.1,433.4 2838.6,434.8 2840.2,436.1 2841.7,437.5 2843.2,438.9 2844.7,440.4 2846.2,441.9 2847.7,443.4 2849.1,444.9 2850.6,446.4 2852,448 2853.4,449.6 2854.8,451.2 2856.1,452.8 2857.5,454.5 2858.8,456.2 2860,457.8 2861.3,459.5 2862.5,461.3 2863.6,463 2864.8,464.7 2865.9,466.5 2866.9,468.2 2867.9,470 2868.8,471.8 2869.7,473.5 2870.6,475.3 2871.4,477.2 2872.1,479 2872.8,480.9 2873.5,482.8 2874.2,484.7 2874.8,486.6 2875.4,488.6 2875.9,490.6 2876.5,492.5 2877,494.5 2877.5,496.6 2878,498.6 2878.4,500.6 2878.9,502.6 2879.4,504.7 2879.8,506.7 2880.3,508.8 2880.7,510.8 2881.1,512.9 2881.6,514.9 2882.1,517 2882.5,519 2883,521 2883.5,523 2884,525 2884.6,527 2885.1,529"/>
<path d="M2970.8,405.5L2782.3,455"/>
<path d="M3011.5,405.5 3010.1,407 3008.7,408.4 3007.2,409.9 3005.8,411.4 3004.4,412.8 3003,414.3 3001.5,415.8 3000.1,417.2 2998.7,418.7 2997.2,420.2 2995.8,421.7 2994.4,423.1 2992.9,424.6 2991.5,426.1 2990,427.5 2988.6,429 2987.2,430.5 2985.7,432 2984.3,433.4 2982.9,434.9 2981.4,436.4 2980,437.8 2978.6,439.3 2977.1,440.8 2975.7,442.2 2974.3,443.7 2972.9,445.2 2971.4,446.7 2970,448.1 2968.6,449.6 2967.2,451 2965.8,452.5 2964.4,454 2963,455.4 2961.6,456.9 2960.3,458.4 2958.9,459.8 2957.5,461.3 2956.1,462.7 2954.8,464.2 2953.4,465.6 2952.1,467.1 2950.7,468.6 2949.4,470.1 2948,471.5 2946.6,473.1 2945.2,474.6 2943.9,476.1 2942.5,477.6 2941.1,479.1 2939.8,480.7 2938.4,482.2 2937.1,483.7 2935.8,485.2 2934.4,486.7 2933.1,488.2 2931.8,489.8 2930.5,491.3 2929.2,492.8 2927.9,494.3 2926.6,495.8 2925.3,497.3 2924,498.8 2922.7,500.3 2921.4,501.8 2920.1,503.3 2918.8,504.9 2917.5,506.4 2916.2,507.9 2914.9,509.4 2913.6,510.9 2912.3,512.4 2911,513.9 2909.7,515.4 2908.4,516.9 2907.1,518.4 2905.8,519.9 2904.5,521.4 2903.2,523 2901.9,524.5 2900.6,526 2899.3,527.5 2898,529"/>
<path d="M2760.8,479.8 2762.6,480.7 2764.5,481.5 2766.3,482.4 2768.2,483.3 2770,484.1 2771.9,485 2773.7,485.9 2775.6,486.7 2777.5,487.6 2779.3,488.5 2781.2,489.3 2783,490.2 2784.9,491.1 2786.7,491.9 2788.6,492.8 2790.4,493.7 2792.3,494.5 2794.1,495.4 2795.9,496.3 2797.8,497.1 2799.6,498 2801.4,498.9 2803.3,499.8 2805.1,500.7 2806.9,501.5 2808.7,502.4 2810.5,503.3 2812.3,504.2 2814.2,505.1 2816,506.1 2817.8,507 2819.7,508 2821.5,508.9 2823.3,509.8 2825.2,510.8 2827,511.7 2828.8,512.7 2830.6,513.7 2832.4,514.6 2834.2,515.6 2836,516.5 2837.8,517.5 2839.6,518.4 2841.4,519.4 2843.2,520.4 2845,521.3 2846.8,522.3 2848.6,523.3 2850.4,524.2 2852.2,525.2 2854,526.1 2855.8,527.1 2857.6,528 2859.4,529"/>
</g><g fill="#191970" stroke="#191970" stroke-width="1" shape-rendering="crispEdges">
<polygon points="567,81 575.7,68.9 581.5,77.5"/>
<polygon points="989.5,231 974.9,227.7 980.6,219"/>
<polygon points="537.1,156 531.9,142 542.3,142"/>
<polygon points="711.3,231 697.5,225.2 704.7,217.6"/>
<polygon points="218,380 210.6,367 220.9,365.4"/>
<polygon points="379.2,231 389.8,220.5 394.1,230"/>
<polygon points="533.4,231 528.2,217 538.6,217"/>
<polygon points="694.1,231 679.2,230.7 683,221"/>
<polygon points="222,380 215.8,366.4 226.2,365.7"/>
<polygon points="392.5,305 403.2,294.6 407.4,304.1"/>
<polygon points="617,305 602.6,300.9 608.8,292.5"/>
<polygon points="306,380 318.5,371.8 320.8,382"/>
<polygon points="249,380 258.4,368.4 263.7,377.4"/>
<polygon points="694.1,305 706.9,297.3 708.8,307.5"/>
<polygon points="342,383 355.3,376.3 356.5,386.6"/>
<polygon points="893.7,305 903.6,293.8 908.5,303"/>
<polygon points="1009.3,305 1004.1,291 1014.5,291"/>
<polygon points="1139.5,305 1124.6,303.6 1129.2,294.2"/>
<polygon points="1929,312 1914.7,316.1 1915.4,305.8"/>
<polygon points="2100,305 2085.7,309.3 2086.4,298.9"/>
<polygon points="2613,312.3 2598.8,316.9 2599.2,306.5"/>
<polygon points="513.5,380.7 526.8,373.9 528,384.2"/>
<polygon points="395.2,455 406.5,445.3 410.1,455"/>
<polygon points="685,381 697.7,373.2 699.7,383.4"/>
<polygon points="805,380 816.9,371 819.9,381"/>
<polygon points="963.8,380 967.7,365.6 976.1,371.7"/>
<polygon points="1993.4,380 1988.6,365.9 1999,366.1"/>
<polygon points="2009.3,332 2014.9,345.8 2004.5,346.1"/>
<polygon points="2147.7,380 2132.8,379 2137.1,369.5"/>
<polygon points="2483.5,380 2495.8,371.5 2498.3,381.6"/>
<polygon points="2732,380 2726.8,366 2737.2,366"/>
<polygon points="2973,380 2958.1,381.4 2960.8,371.3"/>
<polygon points="2966,529 2978.8,521.3 2980.7,531.6"/>
<polygon points="90,455 100.4,444.3 104.9,453.7"/>
<polygon points="203.5,455 202,440.1 212.1,442.8"/>
<polygon points="141.4,529 146.8,515.1 154.6,521.9"/>
<polygon points="252.8,529 239.6,521.9 247.4,515.1"/>
<polygon points="550,455 560.5,444.4 564.9,453.9"/>
<polygon points="664.1,455 672.6,442.7 678.6,451.2"/>
<polygon points="749.8,405.5 741.1,417.7 735.3,409.1"/>
<polygon points="816.2,455 826.7,444.4 831.1,453.8"/>
<polygon points="945.3,455 939.5,441.3 949.8,440.8"/>
<polygon points="960.4,405.5 967,418.9 956.6,420"/>
<polygon points="1119,455 1104.1,454.8 1107.8,445.1"/>
<polygon points="773,532.5 758.3,535 760.2,524.8"/>
<polygon points="912,528.5 897.6,532.4 898.5,522"/>
<polygon points="1374,529 1359.3,526.4 1364.5,517.4"/>
<polygon points="1353.5,529 1338.6,529.6 1341.8,519.7"/>
<polygon points="1471,387 1456.4,390 1458,379.7"/>
<polygon points="1621,381 1606.5,384.7 1607.6,374.4"/>
<polygon points="1768,380 1753.6,383.9 1754.5,373.6"/>
<polygon points="1403.4,455 1413.7,444.2 1418.3,453.5"/>
<polygon points="1524.7,455 1518.7,441.3 1529.1,440.7"/>
<polygon points="1539.8,405.5 1545,419.5 1534.6,419.5"/>
<polygon points="1599.8,604 1598.5,589.1 1608.5,591.9"/>
<polygon points="1608.4,604 1609.4,589.1 1618.9,593.3"/>
<polygon points="1769.7,455 1755.5,450.5 1761.8,442.3"/>
<polygon points="1891.2,455 1876.3,456 1879.2,446.1"/>
<polygon points="1743.4,405.5 1758.3,404.5 1755.3,414.5"/>
<polygon points="1940,529 1952.3,520.5 1954.9,530.6"/>
<polygon points="1527.3,612.6 1513,616.8 1513.7,606.4"/>
<polygon points="1459,680 1444.2,682 1446.5,671.9"/>
<polygon points="1557,604 1542.1,603.6 1546,593.9"/>
<polygon points="1499.6,680 1487.2,671.7 1495.6,665.6"/>
<polygon points="1635,604 1645.5,593.4 1649.9,602.8"/>
<polygon points="1544,679.5 1554.1,668.5 1558.8,677.8"/>
<polygon points="1525.2,680 1531.5,666.5 1538.8,673.9"/>
<polygon points="2683.7,455 2668.9,456.6 2671.4,446.5"/>
<polygon points="2800.1,529 2785.2,530.5 2787.9,520.4"/>
<polygon points="2732,455 2726.8,441 2737.2,441"/>
<polygon points="2885.1,529 2876.2,517 2886.2,514.1"/>
<polygon points="2782.3,455 2794.5,446.4 2797.2,456.5"/>
<polygon points="2898,529 2903.3,515 2911.1,521.9"/>
<polygon points="2859.4,529 2844.6,527.1 2849.4,517.9"/>
</g>
<rect x="567.5" y="7.5" width="186" height="25" fill="#bfbfbf" stroke="#000" stroke-width="1"/>
<text x="577.5" y="24.2">StructuredPushSupplier.cpp</text>
<rect x="384.5" y="81.5" width="327" height="26" fill="#fff" stroke="#000" stroke-width="1"/>
<text x="394.5" y="98.7">orbsvcs/Notify/Structured/StructuredPushSupplier.h</text>
<rect x="449.5" y="156.5" width="171" height="25" fill="#fff" stroke="#000" stroke-width="1"/>
<text x="459.5" y="173.2">orbsvcs/Notify/Supplier.h</text>
<rect x="263.5" y="231.5" width="175" height="25" fill="#fff" stroke="#000" stroke-width="1"/>
<text x="273.5" y="248.2">orbsvcs/Notify/Supplier.inl</text>
<rect x="460.5" y="231.5" width="148" height="25" fill="#fff" stroke="#000" stroke-width="1"/>
<text x="470.5" y="248.2">orbsvcs/Notify/Peer.h</text>
<rect x="631.5" y="231.5" width="189" height="25" fill="#fff" stroke="#bfbfbf" stroke-width="1"/>
<text x="641.5" y="248.2">orbsvcs/CosNotifyCommC.h</text>
<rect x="919.5" y="231.5" width="182" height="25" fill="#fff" stroke="#000" stroke-width="1"/>
<text x="929.5" y="248.2">orbsvcs/Notify/Properties.h</text>
<rect x="263.5" y="305.5" width="207" height="26" fill="#fff" stroke="#ff0000" stroke-width="1"/>
<text x="273.5" y="322.7">orbsvcs/Notify/EventTypeSeq.h</text>
<rect x="543.5" y="305.5" width="182" height="26" fill="#fff" stroke="#bfbfbf" stroke-width="1"/>
<text x="553.5" y="322.7">orbsvcs/CosNotificationC.h</text>
<rect x="799.5" y="305.5" width="145" height="26" fill="#fff" stroke="#bfbfbf" stroke-width="1"/>
<text x="809.5" y="322.7">tao/TAO_Singleton.h</text>
<rect x="967.5" y="305.5" width="85" height="26" fill="#fff" stroke="#000" stroke-width="1"/>
<text x="977.5" y="322.7">tao/ORB.h</text>
<rect x="1076.5" y="305.5" width="188" height="26" fill="#fff" stroke="#000" stroke-width="1"/>
<text x="1086.5" y="322.7">orbsvcs/Notify/Properties.inl</text>
<rect x="1929.5" y="305.5" width="146" height="26" fill="#fff" stroke="#000" stroke-width="1"/>
<text x="1939.5" y="322.7">tao/TAO_Singleton.h</text>
<rect x="2097.5" y="305.5" width="238" height="26" fill="#fff" stroke="#bfbfbf" stroke-width="1"/>
<text x="2107.5" y="322.7">orbsvcs/CosNotifyChannelAdminC.h</text>
<rect x="2613.5" y="305.5" width="239" height="26" fill="#fff" stroke="#000" stroke-width="1"/>
<text x="2623.5" y="322.7">tao/PortableServer/PortableServer.h</text>
<rect x="111.5" y="380.5" width="230" height="25" fill="#fff" stroke="#000" stroke-width="1"/>
<text x="121.5" y="397.2">orbsvcs/Notify/notify_serv_export.h</text>
<rect x="417.5" y="380.5" width="92" height="25" fill="#fff" stroke="#000" stroke-width="1"/>
<text x="427.5" y="397.2">tao/ORB.inl</text>
<rect x="583.5" y="380.5" width="102" height="25" fill="#fff" stroke="#000" stroke-width="1"/>
<text x="593.5" y="397.2">tao/objectid.h</text>
<rect x="708.5" y="380.5" width="113" height="25" fill="#fff" stroke="#000" stroke-width="1"/>
<text x="718.5" y="397.2">tao/VarOut_T.h</text>
<rect x="871.5" y="380.5" width="165" height="25" fill="#fff" stroke="#000" stroke-width="1"/>
<text x="881.5" y="397.2">tao/Pseudo_VarOut_T.h</text>
<rect x="1471.5" y="380.5" width="122" height="25" fill="#fff" stroke="#000" stroke-width="1"/>
<text x="1481.5" y="397.2">tao/Seq_Var_T.h</text>
<rect x="1621.5" y="380.5" width="124" height="25" fill="#fff" stroke="#000" stroke-width="1"/>
<text x="1631.5" y="397.2">tao/Seq_Out_T.h</text>
<rect x="1768.5" y="380.5" width="131" height="25" fill="#fff" stroke="#ff0000" stroke-width="1"/>
<text x="1778.5" y="397.2">tao/Sequence_T.h</text>
<rect x="1923.5" y="380.5" width="158" height="25" fill="#fff" stroke="#ff0000" stroke-width="1"/>
<text x="1933.5" y="397.2">tao/TAO_Singleton.cpp</text>
<rect x="2104.5" y="380.5" width="151" height="25" fill="#fff" stroke="#000" stroke-width="1"/>
<text x="2114.5" y="397.2">tao/TAO_Singleton.inl</text>
<rect x="2277.5" y="380.5" width="316" height="25" fill="#fff" stroke="#000" stroke-width="1"/>
<text x="2287.5" y="397.2">tao/PortableServer/PortableServer_WFunctions.h</text>
<rect x="2616.5" y="380.5" width="233" height="25" fill="#fff" stroke="#000" stroke-width="1"/>
<text x="2626.5" y="397.2">tao/PortableServer/PS_ForwardA.h</text>
<rect x="2872.5" y="380.5" width="304" height="25" fill="#fff" stroke="#000" stroke-width="1"/>
<text x="2882.5" y="397.2">tao/PortableServer/PortableServer_Functions.h</text>
<rect x="5.5" y="455.5" width="112" height="25" fill="#fff" stroke="#bfbfbf" stroke-width="1"/>
<text x="15.5" y="472.2">ace/config-all.h</text>
<rect x="141.5" y="455.5" width="112" height="25" fill="#fff" stroke="#000" stroke-width="1"/>
<text x="151.5" y="472.2">ace/config-all.h</text>
<rect x="277.5" y="455.5" width="144" height="25" fill="#fff" stroke="#000" stroke-width="1"/>
<text x="287.5" y="472.2">tao/UserException.h</text>
<rect x="445.5" y="455.5" width="119" height="25" fill="#fff" stroke="#000" stroke-width="1"/>
<text x="455.5" y="472.2">tao/VarOut_T.inl</text>
<rect x="587.5" y="455.5" width="126" height="25" fill="#fff" stroke="#000" stroke-width="1"/>
<text x="597.5" y="472.2">tao/VarOut_T.cpp</text>
<rect x="736.5" y="455.5" width="104" height="25" fill="#fff" stroke="#000" stroke-width="1"/>
<text x="746.5" y="472.2">tao/varbase.h</text>
<rect x="864.5" y="455.5" width="180" height="25" fill="#fff" stroke="#000" stroke-width="1"/>
<text x="874.5" y="472.2">tao/Pseudo_VarOut_T.cpp</text>
<rect x="1067.5" y="455.5" width="170" height="25" fill="#fff" stroke="#000" stroke-width="1"/>
<text x="1077.5" y="472.2">tao/Pseudo_VarOut_T.inl</text>
<rect x="1312.5" y="455.5" width="128" height="25" fill="#fff" stroke="#000" stroke-width="1"/>
<text x="1322.5" y="472.2">tao/Seq_Var_T.inl</text>
<rect x="1464.5" y="455.5" width="136" height="25" fill="#fff" stroke="#000" stroke-width="1"/>
<text x="1474.5" y="472.2">tao/Seq_Var_T.cpp</text>
<rect x="1725.5" y="455.5" width="130" height="25" fill="#fff" stroke="#000" stroke-width="1"/>
<text x="1735.5" y="472.2">tao/Seq_Out_T.inl</text>
<rect x="1877.5" y="455.5" width="138" height="25" fill="#fff" stroke="#000" stroke-width="1"/>
<text x="1887.5" y="472.2">tao/Seq_Out_T.cpp</text>
<rect x="2616.5" y="455.5" width="233" height="25" fill="#fff" stroke="#000" stroke-width="1"/>
<text x="2626.5" y="472.2">tao/PortableServer/PS_ForwardC.h</text>
<rect x="71.5" y="529.5" width="116" height="26" fill="#fff" stroke="#ff0000" stroke-width="1"/>
<text x="81.5" y="546.7">ace/config-lite.h</text>
<rect x="209.5" y="529.5" width="115" height="26" fill="#fff" stroke="#000" stroke-width="1"/>
<text x="219.5" y="546.7">ace/OS_main.h</text>
<rect x="773.5" y="529.5" width="116" height="26" fill="#fff" stroke="#ff0000" stroke-width="1"/>
<text x="783.5" y="546.7">tao/Exception.h</text>
<rect x="912.5" y="529.5" width="149" height="26" fill="#fff" stroke="#000" stroke-width="1"/>
<text x="922.5" y="546.7">tao/UserException.inl</text>
<rect x="1317.5" y="529.5" width="162" height="26" fill="#fff" stroke="#000" stroke-width="1"/>
<text x="1327.5" y="546.7">tao/CORBA_methods.h</text>
<rect x="1725.5" y="529.5" width="246" height="26" fill="#fff" stroke="#ff0000" stroke-width="1"/>
<text x="1735.5" y="546.7">tao/Unbounded_Octet_Sequence_T.h</text>
<rect x="2745.5" y="529.5" width="280" height="26" fill="#fff" stroke="#000" stroke-width="1"/>
<text x="2755.5" y="546.7">tao/PortableServer/portableserver_export.h</text>
<rect x="1527.5" y="604.5" width="132" height="25" fill="#fff" stroke="#000" stroke-width="1"/>
<text x="1537.5" y="621.2">tao/Basic_Types.h</text>
<rect x="1459.5" y="679.5" width="101" height="25" fill="#fff" stroke="#000" stroke-width="1"/>
<text x="1469.5" y="696.2">tao/orbconf.h</text>
</svg></body></html>
